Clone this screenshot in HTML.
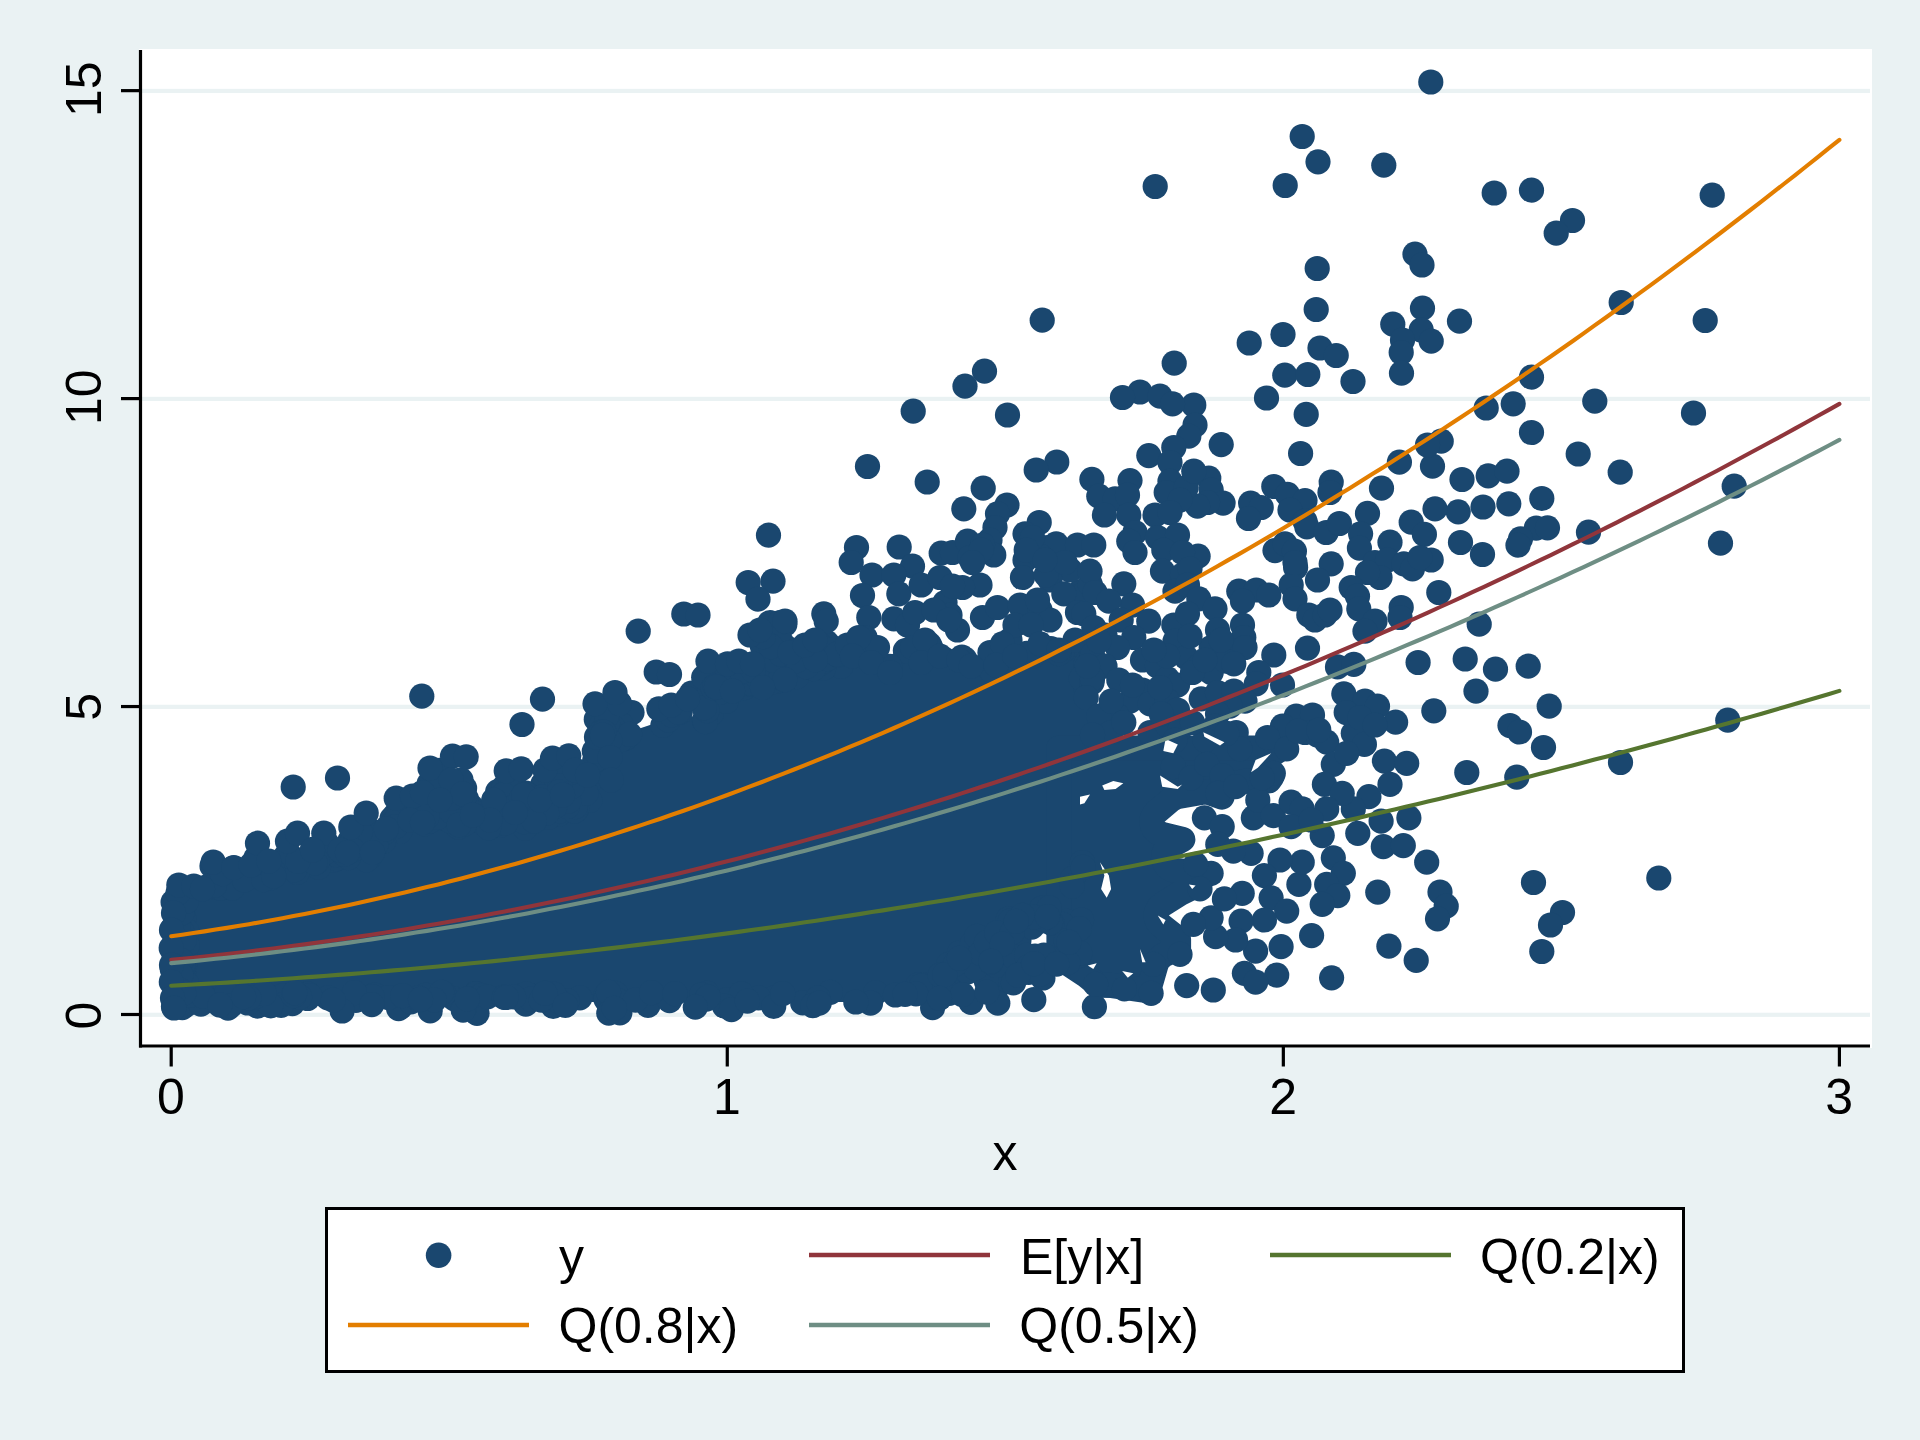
<!DOCTYPE html>
<html><head><meta charset="utf-8"><title>scatter</title>
<style>
html,body{margin:0;padding:0;background:#eaf2f3;}
body{width:1920px;height:1440px;overflow:hidden;}
svg{display:block;}
text{font-family:"Liberation Sans",sans-serif;font-size:50px;fill:#000;}
</style></head><body>
<svg width="1920" height="1440" viewBox="0 0 1920 1440">
<rect x="0" y="0" width="1920" height="1440" fill="#eaf2f3"/>
<rect x="139" y="49" width="1733" height="999" fill="#ffffff"/>

<rect x="142" y="1012.70" width="1728" height="4.2" fill="#eaf2f3"/>
<rect x="142" y="704.75" width="1728" height="4.2" fill="#eaf2f3"/>
<rect x="142" y="396.80" width="1728" height="4.2" fill="#eaf2f3"/>
<rect x="142" y="88.85" width="1728" height="4.2" fill="#eaf2f3"/>
<g fill="#1a476f">
<polygon points="178.0,905.0 215.0,880.0 265.0,875.0 315.0,862.0 365.0,850.0 390.0,828.0 440.0,815.0 490.0,825.0 540.0,815.0 590.0,795.0 605.0,740.0 650.0,725.0 700.0,715.0 720.0,693.0 775.0,680.0 800.0,665.0 837.0,658.0 850.0,640.0 887.0,658.0 912.0,640.0 950.0,648.0 975.0,665.0 1025.0,653.0 1080.0,640.0 1095.0,700.0 1095.0,860.0 1070.0,900.0 1000.0,930.0 960.0,960.0 940.0,990.0 880.0,1002.0 178.0,1002.0"/>
<path d="M1281.8 748.0 L1059.0 748.0 L1059.0 957.5 L1087.0 976.0 L1098.0 985.2 L1112.0 985.5 L1148.5 990.8 L1156.2 964.0 L1158.2 959.8 L1162.8 955.5 L1178.5 947.8 L1178.5 939.2 L1160.8 925.2 L1158.0 922.0 L1156.2 917.2 L1156.2 913.8 L1157.0 911.0 L1159.2 907.2 L1163.2 904.0 L1179.5 893.8 L1196.2 885.5 L1206.2 874.2 L1205.0 873.5 L1174.2 870.2 L1169.8 868.5 L1166.5 865.8 L1164.2 862.0 L1163.5 859.2 L1163.8 854.5 L1165.2 851.0 L1169.8 846.5 L1182.8 839.5 L1161.2 834.2 L1156.2 831.5 L1153.8 828.5 L1152.0 823.8 L1152.2 818.8 L1153.8 815.2 L1156.5 812.0 L1171.8 799.2 L1177.2 796.5 L1204.5 791.8 L1208.0 792.2 L1222.0 797.0 L1223.5 791.5 L1225.0 788.8 L1227.2 786.2 L1231.2 783.8 L1248.2 780.8 L1269.0 780.8 L1272.0 776.5 L1267.8 767.5 L1267.5 762.5 L1268.2 759.8 L1271.8 754.8Z" stroke="#1a476f" stroke-width="25.2" stroke-linejoin="round"/>
<circle cx="563.0" cy="805.0" r="12.6"/>
<circle cx="579.8" cy="997.8" r="12.6"/>
<circle cx="488.1" cy="821.5" r="12.6"/>
<circle cx="477.0" cy="1013.3" r="12.6"/>
<circle cx="959.6" cy="952.8" r="12.6"/>
<circle cx="228.5" cy="993.2" r="12.6"/>
<circle cx="531.5" cy="996.2" r="12.6"/>
<circle cx="668.7" cy="716.3" r="12.6"/>
<circle cx="987.9" cy="972.0" r="12.6"/>
<circle cx="261.0" cy="1003.7" r="12.6"/>
<circle cx="369.4" cy="857.3" r="12.6"/>
<circle cx="982.1" cy="968.1" r="12.6"/>
<circle cx="996.5" cy="988.1" r="12.6"/>
<circle cx="1066.6" cy="921.3" r="12.6"/>
<circle cx="430.9" cy="814.9" r="12.6"/>
<circle cx="625.2" cy="738.3" r="12.6"/>
<circle cx="566.2" cy="807.9" r="12.6"/>
<circle cx="618.8" cy="726.4" r="12.6"/>
<circle cx="183.1" cy="918.1" r="12.6"/>
<circle cx="589.7" cy="800.4" r="12.6"/>
<circle cx="615.3" cy="993.4" r="12.6"/>
<circle cx="875.5" cy="992.8" r="12.6"/>
<circle cx="575.8" cy="810.0" r="12.6"/>
<circle cx="997.8" cy="940.4" r="12.6"/>
<circle cx="1088.7" cy="673.0" r="12.6"/>
<circle cx="1035.0" cy="956.0" r="12.6"/>
<circle cx="992.9" cy="965.9" r="12.6"/>
<circle cx="997.8" cy="1003.2" r="12.6"/>
<circle cx="738.9" cy="685.8" r="12.6"/>
<circle cx="523.9" cy="795.6" r="12.6"/>
<circle cx="611.3" cy="746.0" r="12.6"/>
<circle cx="268.3" cy="871.1" r="12.6"/>
<circle cx="239.6" cy="998.3" r="12.6"/>
<circle cx="744.3" cy="687.6" r="12.6"/>
<circle cx="346.2" cy="853.8" r="12.6"/>
<circle cx="173.6" cy="927.4" r="12.6"/>
<circle cx="292.4" cy="1003.6" r="12.6"/>
<circle cx="947.7" cy="978.4" r="12.6"/>
<circle cx="619.9" cy="1012.8" r="12.6"/>
<circle cx="183.8" cy="948.7" r="12.6"/>
<circle cx="558.9" cy="814.1" r="12.6"/>
<circle cx="307.7" cy="993.8" r="12.6"/>
<circle cx="374.6" cy="995.2" r="12.6"/>
<circle cx="1018.0" cy="936.9" r="12.6"/>
<circle cx="194.6" cy="996.4" r="12.6"/>
<circle cx="555.9" cy="790.8" r="12.6"/>
<circle cx="176.5" cy="926.2" r="12.6"/>
<circle cx="1008.3" cy="919.1" r="12.6"/>
<circle cx="270.7" cy="993.9" r="12.6"/>
<circle cx="183.5" cy="972.6" r="12.6"/>
<circle cx="366.3" cy="853.6" r="12.6"/>
<circle cx="181.7" cy="952.0" r="12.6"/>
<circle cx="183.9" cy="918.7" r="12.6"/>
<circle cx="796.7" cy="676.7" r="12.6"/>
<circle cx="573.0" cy="798.4" r="12.6"/>
<circle cx="948.6" cy="979.4" r="12.6"/>
<circle cx="176.0" cy="975.7" r="12.6"/>
<circle cx="1038.5" cy="921.0" r="12.6"/>
<circle cx="949.7" cy="980.5" r="12.6"/>
<circle cx="174.1" cy="955.4" r="12.6"/>
<circle cx="1009.7" cy="660.3" r="12.6"/>
<circle cx="829.6" cy="647.7" r="12.6"/>
<circle cx="576.6" cy="808.7" r="12.6"/>
<circle cx="463.4" cy="797.2" r="12.6"/>
<circle cx="618.9" cy="702.9" r="12.6"/>
<circle cx="605.8" cy="996.0" r="12.6"/>
<circle cx="350.0" cy="840.7" r="12.6"/>
<circle cx="1016.3" cy="968.0" r="12.6"/>
<circle cx="465.2" cy="811.6" r="12.6"/>
<circle cx="777.3" cy="680.5" r="12.6"/>
<circle cx="267.1" cy="996.8" r="12.6"/>
<circle cx="617.9" cy="1000.7" r="12.6"/>
<circle cx="553.4" cy="782.5" r="12.6"/>
<circle cx="1018.9" cy="940.5" r="12.6"/>
<circle cx="1003.7" cy="970.4" r="12.6"/>
<circle cx="226.1" cy="878.6" r="12.6"/>
<circle cx="186.8" cy="931.4" r="12.6"/>
<circle cx="1068.6" cy="940.5" r="12.6"/>
<circle cx="174.8" cy="996.0" r="12.6"/>
<circle cx="1007.5" cy="976.0" r="12.6"/>
<circle cx="294.3" cy="995.3" r="12.6"/>
<circle cx="220.9" cy="887.5" r="12.6"/>
<circle cx="870.5" cy="1003.2" r="12.6"/>
<circle cx="400.5" cy="1007.0" r="12.6"/>
<circle cx="1042.9" cy="978.0" r="12.6"/>
<circle cx="1041.8" cy="908.4" r="12.6"/>
<circle cx="1081.5" cy="920.0" r="12.6"/>
<circle cx="905.4" cy="650.6" r="12.6"/>
<circle cx="948.7" cy="964.3" r="12.6"/>
<circle cx="1062.3" cy="924.3" r="12.6"/>
<circle cx="493.9" cy="801.5" r="12.6"/>
<circle cx="648.0" cy="1005.3" r="12.6"/>
<circle cx="179.3" cy="920.8" r="12.6"/>
<circle cx="525.8" cy="1004.2" r="12.6"/>
<circle cx="1052.0" cy="923.3" r="12.6"/>
<circle cx="284.1" cy="1000.0" r="12.6"/>
<circle cx="475.4" cy="993.7" r="12.6"/>
<circle cx="257.5" cy="1006.1" r="12.6"/>
<circle cx="947.6" cy="976.4" r="12.6"/>
<circle cx="398.6" cy="1008.6" r="12.6"/>
<circle cx="186.3" cy="983.5" r="12.6"/>
<circle cx="1033.8" cy="999.7" r="12.6"/>
<circle cx="567.0" cy="1000.6" r="12.6"/>
<circle cx="327.8" cy="997.9" r="12.6"/>
<circle cx="986.4" cy="981.2" r="12.6"/>
<circle cx="606.0" cy="999.3" r="12.6"/>
<circle cx="354.4" cy="999.4" r="12.6"/>
<circle cx="283.0" cy="995.8" r="12.6"/>
<circle cx="691.6" cy="693.2" r="12.6"/>
<circle cx="184.6" cy="964.6" r="12.6"/>
<circle cx="972.3" cy="944.0" r="12.6"/>
<circle cx="1082.4" cy="862.5" r="12.6"/>
<circle cx="528.2" cy="799.9" r="12.6"/>
<circle cx="458.3" cy="827.0" r="12.6"/>
<circle cx="932.6" cy="1007.7" r="12.6"/>
<circle cx="307.6" cy="998.5" r="12.6"/>
<circle cx="1079.3" cy="955.6" r="12.6"/>
<circle cx="553.2" cy="1006.4" r="12.6"/>
<circle cx="895.4" cy="995.0" r="12.6"/>
<circle cx="281.1" cy="1005.3" r="12.6"/>
<circle cx="182.5" cy="945.6" r="12.6"/>
<circle cx="778.2" cy="680.6" r="12.6"/>
<circle cx="855.8" cy="1002.0" r="12.6"/>
<circle cx="971.0" cy="1002.4" r="12.6"/>
<circle cx="708.9" cy="686.1" r="12.6"/>
<circle cx="270.5" cy="877.9" r="12.6"/>
<circle cx="388.4" cy="997.5" r="12.6"/>
<circle cx="802.7" cy="1002.9" r="12.6"/>
<circle cx="559.6" cy="1002.2" r="12.6"/>
<circle cx="726.7" cy="999.9" r="12.6"/>
<circle cx="541.0" cy="798.3" r="12.6"/>
<circle cx="711.1" cy="713.9" r="12.6"/>
<circle cx="1066.2" cy="940.5" r="12.6"/>
<circle cx="726.2" cy="701.4" r="12.6"/>
<circle cx="1079.8" cy="953.4" r="12.6"/>
<circle cx="175.1" cy="969.7" r="12.6"/>
<circle cx="635.5" cy="1000.2" r="12.6"/>
<circle cx="552.2" cy="761.9" r="12.6"/>
<circle cx="464.0" cy="1008.5" r="12.6"/>
<circle cx="1032.5" cy="656.0" r="12.6"/>
<circle cx="553.9" cy="994.4" r="12.6"/>
<circle cx="413.9" cy="999.6" r="12.6"/>
<circle cx="784.8" cy="624.4" r="12.6"/>
<circle cx="923.3" cy="985.1" r="12.6"/>
<circle cx="1086.3" cy="663.3" r="12.6"/>
<circle cx="774.3" cy="997.9" r="12.6"/>
<circle cx="1085.8" cy="688.4" r="12.6"/>
<circle cx="559.3" cy="790.4" r="12.6"/>
<circle cx="212.0" cy="865.9" r="12.6"/>
<circle cx="309.9" cy="995.6" r="12.6"/>
<circle cx="830.3" cy="992.3" r="12.6"/>
<circle cx="512.5" cy="775.0" r="12.6"/>
<circle cx="181.9" cy="931.6" r="12.6"/>
<circle cx="454.4" cy="998.9" r="12.6"/>
<circle cx="173.1" cy="902.1" r="12.6"/>
<circle cx="185.2" cy="956.1" r="12.6"/>
<circle cx="185.3" cy="945.4" r="12.6"/>
<circle cx="443.8" cy="993.8" r="12.6"/>
<circle cx="746.3" cy="678.3" r="12.6"/>
<circle cx="1079.3" cy="928.7" r="12.6"/>
<circle cx="1010.3" cy="920.8" r="12.6"/>
<circle cx="528.7" cy="807.0" r="12.6"/>
<circle cx="477.4" cy="820.3" r="12.6"/>
<circle cx="526.4" cy="993.9" r="12.6"/>
<circle cx="996.1" cy="965.5" r="12.6"/>
<circle cx="476.1" cy="994.2" r="12.6"/>
<circle cx="575.0" cy="799.1" r="12.6"/>
<circle cx="1050.5" cy="922.5" r="12.6"/>
<circle cx="1067.8" cy="962.7" r="12.6"/>
<circle cx="669.6" cy="1000.6" r="12.6"/>
<circle cx="967.8" cy="971.9" r="12.6"/>
<circle cx="840.9" cy="666.4" r="12.6"/>
<circle cx="270.8" cy="1005.8" r="12.6"/>
<circle cx="430.2" cy="1010.9" r="12.6"/>
<circle cx="1091.7" cy="655.3" r="12.6"/>
<circle cx="917.9" cy="985.2" r="12.6"/>
<circle cx="228.0" cy="1008.2" r="12.6"/>
<circle cx="1040.5" cy="921.1" r="12.6"/>
<circle cx="1072.7" cy="878.3" r="12.6"/>
<circle cx="602.8" cy="750.6" r="12.6"/>
<circle cx="1062.5" cy="651.3" r="12.6"/>
<circle cx="178.9" cy="965.1" r="12.6"/>
<circle cx="609.0" cy="1004.2" r="12.6"/>
<circle cx="1081.3" cy="611.6" r="12.6"/>
<circle cx="980.7" cy="944.6" r="12.6"/>
<circle cx="213.1" cy="887.2" r="12.6"/>
<circle cx="859.4" cy="645.6" r="12.6"/>
<circle cx="366.5" cy="859.8" r="12.6"/>
<circle cx="1024.6" cy="917.3" r="12.6"/>
<circle cx="489.5" cy="827.6" r="12.6"/>
<circle cx="530.9" cy="999.2" r="12.6"/>
<circle cx="399.7" cy="831.5" r="12.6"/>
<circle cx="172.3" cy="969.3" r="12.6"/>
<circle cx="220.3" cy="888.1" r="12.6"/>
<circle cx="921.3" cy="985.9" r="12.6"/>
<circle cx="758.4" cy="997.8" r="12.6"/>
<circle cx="1031.8" cy="927.2" r="12.6"/>
<circle cx="986.8" cy="992.1" r="12.6"/>
<circle cx="372.1" cy="996.6" r="12.6"/>
<circle cx="178.2" cy="969.2" r="12.6"/>
<circle cx="502.5" cy="793.9" r="12.6"/>
<circle cx="1068.9" cy="942.4" r="12.6"/>
<circle cx="706.8" cy="993.3" r="12.6"/>
<circle cx="951.2" cy="991.6" r="12.6"/>
<circle cx="944.9" cy="988.9" r="12.6"/>
<circle cx="916.0" cy="993.8" r="12.6"/>
<circle cx="1081.3" cy="678.4" r="12.6"/>
<circle cx="949.3" cy="993.3" r="12.6"/>
<circle cx="1072.1" cy="886.1" r="12.6"/>
<circle cx="426.2" cy="995.4" r="12.6"/>
<circle cx="701.6" cy="994.9" r="12.6"/>
<circle cx="929.3" cy="644.4" r="12.6"/>
<circle cx="776.0" cy="662.7" r="12.6"/>
<circle cx="247.7" cy="1003.0" r="12.6"/>
<circle cx="178.6" cy="951.8" r="12.6"/>
<circle cx="337.2" cy="858.4" r="12.6"/>
<circle cx="332.6" cy="860.3" r="12.6"/>
<circle cx="706.4" cy="999.1" r="12.6"/>
<circle cx="558.5" cy="782.8" r="12.6"/>
<circle cx="1042.6" cy="919.2" r="12.6"/>
<circle cx="709.5" cy="692.4" r="12.6"/>
<circle cx="548.8" cy="817.0" r="12.6"/>
<circle cx="749.6" cy="683.8" r="12.6"/>
<circle cx="961.9" cy="657.1" r="12.6"/>
<circle cx="1049.2" cy="907.8" r="12.6"/>
<circle cx="541.3" cy="1000.1" r="12.6"/>
<circle cx="255.2" cy="996.6" r="12.6"/>
<circle cx="595.6" cy="766.2" r="12.6"/>
<circle cx="608.5" cy="992.4" r="12.6"/>
<circle cx="662.9" cy="725.3" r="12.6"/>
<circle cx="568.1" cy="790.4" r="12.6"/>
<circle cx="1005.0" cy="661.4" r="12.6"/>
<circle cx="256.2" cy="993.1" r="12.6"/>
<circle cx="1080.3" cy="591.5" r="12.6"/>
<circle cx="823.6" cy="668.1" r="12.6"/>
<circle cx="233.5" cy="868.1" r="12.6"/>
<circle cx="186.4" cy="1004.7" r="12.6"/>
<circle cx="355.9" cy="1000.3" r="12.6"/>
<circle cx="741.3" cy="993.8" r="12.6"/>
<circle cx="354.4" cy="992.6" r="12.6"/>
<circle cx="827.1" cy="642.9" r="12.6"/>
<circle cx="1013.4" cy="956.5" r="12.6"/>
<circle cx="481.5" cy="995.5" r="12.6"/>
<circle cx="1026.6" cy="955.4" r="12.6"/>
<circle cx="724.4" cy="1006.0" r="12.6"/>
<circle cx="487.4" cy="996.8" r="12.6"/>
<circle cx="232.7" cy="994.5" r="12.6"/>
<circle cx="482.0" cy="818.9" r="12.6"/>
<circle cx="232.4" cy="992.1" r="12.6"/>
<circle cx="991.7" cy="948.0" r="12.6"/>
<circle cx="594.6" cy="760.8" r="12.6"/>
<circle cx="175.9" cy="930.0" r="12.6"/>
<circle cx="608.8" cy="1013.2" r="12.6"/>
<circle cx="964.6" cy="659.0" r="12.6"/>
<circle cx="187.2" cy="944.8" r="12.6"/>
<circle cx="773.7" cy="1006.4" r="12.6"/>
<circle cx="217.6" cy="992.7" r="12.6"/>
<circle cx="704.5" cy="720.2" r="12.6"/>
<circle cx="184.2" cy="940.2" r="12.6"/>
<circle cx="485.9" cy="825.4" r="12.6"/>
<circle cx="418.5" cy="997.9" r="12.6"/>
<circle cx="525.1" cy="828.0" r="12.6"/>
<circle cx="1013.4" cy="982.9" r="12.6"/>
<circle cx="299.6" cy="997.0" r="12.6"/>
<circle cx="441.6" cy="992.4" r="12.6"/>
<circle cx="549.9" cy="767.0" r="12.6"/>
<circle cx="591.3" cy="779.9" r="12.6"/>
<circle cx="383.5" cy="841.4" r="12.6"/>
<circle cx="860.8" cy="649.1" r="12.6"/>
<circle cx="905.1" cy="994.3" r="12.6"/>
<circle cx="182.3" cy="1007.7" r="12.6"/>
<circle cx="371.8" cy="1004.6" r="12.6"/>
<circle cx="614.3" cy="1008.3" r="12.6"/>
<circle cx="500.2" cy="821.6" r="12.6"/>
<circle cx="178.2" cy="926.7" r="12.6"/>
<circle cx="1050.9" cy="648.5" r="12.6"/>
<circle cx="293.6" cy="995.7" r="12.6"/>
<circle cx="782.7" cy="993.7" r="12.6"/>
<circle cx="996.4" cy="662.9" r="12.6"/>
<circle cx="342.1" cy="1011.0" r="12.6"/>
<circle cx="178.3" cy="894.8" r="12.6"/>
<circle cx="182.1" cy="912.8" r="12.6"/>
<circle cx="1028.6" cy="966.8" r="12.6"/>
<circle cx="560.2" cy="810.8" r="12.6"/>
<circle cx="976.7" cy="936.4" r="12.6"/>
<circle cx="1028.7" cy="972.4" r="12.6"/>
<circle cx="504.2" cy="997.4" r="12.6"/>
<circle cx="513.6" cy="996.8" r="12.6"/>
<circle cx="179.3" cy="983.0" r="12.6"/>
<circle cx="975.4" cy="968.2" r="12.6"/>
<circle cx="434.3" cy="1000.1" r="12.6"/>
<circle cx="232.3" cy="888.1" r="12.6"/>
<circle cx="625.3" cy="737.9" r="12.6"/>
<circle cx="173.5" cy="1006.4" r="12.6"/>
<circle cx="1040.4" cy="974.1" r="12.6"/>
<circle cx="500.3" cy="821.2" r="12.6"/>
<circle cx="980.6" cy="953.4" r="12.6"/>
<circle cx="962.3" cy="994.5" r="12.6"/>
<circle cx="565.5" cy="781.1" r="12.6"/>
<circle cx="545.0" cy="993.4" r="12.6"/>
<circle cx="258.6" cy="873.1" r="12.6"/>
<circle cx="506.2" cy="997.5" r="12.6"/>
<circle cx="1083.0" cy="594.9" r="12.6"/>
<circle cx="410.9" cy="1001.8" r="12.6"/>
<circle cx="1034.0" cy="917.0" r="12.6"/>
<circle cx="889.7" cy="666.4" r="12.6"/>
<circle cx="264.2" cy="993.5" r="12.6"/>
<circle cx="955.3" cy="964.2" r="12.6"/>
<circle cx="497.7" cy="791.6" r="12.6"/>
<circle cx="731.5" cy="1009.6" r="12.6"/>
<circle cx="419.0" cy="999.8" r="12.6"/>
<circle cx="708.1" cy="997.0" r="12.6"/>
<circle cx="203.1" cy="997.2" r="12.6"/>
<circle cx="940.2" cy="975.2" r="12.6"/>
<circle cx="818.1" cy="998.2" r="12.6"/>
<circle cx="200.9" cy="1004.1" r="12.6"/>
<circle cx="402.7" cy="995.7" r="12.6"/>
<circle cx="181.0" cy="963.5" r="12.6"/>
<circle cx="986.5" cy="942.5" r="12.6"/>
<circle cx="944.7" cy="974.6" r="12.6"/>
<circle cx="812.8" cy="1005.7" r="12.6"/>
<circle cx="226.5" cy="993.6" r="12.6"/>
<circle cx="424.4" cy="812.8" r="12.6"/>
<circle cx="183.4" cy="963.6" r="12.6"/>
<circle cx="181.6" cy="960.6" r="12.6"/>
<circle cx="772.6" cy="681.2" r="12.6"/>
<circle cx="557.8" cy="797.9" r="12.6"/>
<circle cx="202.6" cy="993.7" r="12.6"/>
<circle cx="173.5" cy="970.1" r="12.6"/>
<circle cx="959.4" cy="958.3" r="12.6"/>
<circle cx="574.7" cy="811.2" r="12.6"/>
<circle cx="990.8" cy="962.2" r="12.6"/>
<circle cx="1022.2" cy="915.3" r="12.6"/>
<circle cx="575.3" cy="806.6" r="12.6"/>
<circle cx="996.8" cy="932.8" r="12.6"/>
<circle cx="1012.4" cy="932.1" r="12.6"/>
<circle cx="230.7" cy="1005.7" r="12.6"/>
<circle cx="189.8" cy="995.4" r="12.6"/>
<circle cx="805.2" cy="646.8" r="12.6"/>
<circle cx="294.8" cy="992.8" r="12.6"/>
<circle cx="668.3" cy="720.1" r="12.6"/>
<circle cx="1058.7" cy="653.6" r="12.6"/>
<circle cx="705.3" cy="721.7" r="12.6"/>
<circle cx="180.8" cy="974.9" r="12.6"/>
<circle cx="651.6" cy="992.6" r="12.6"/>
<circle cx="991.0" cy="670.3" r="12.6"/>
<circle cx="464.6" cy="788.1" r="12.6"/>
<circle cx="1018.1" cy="975.4" r="12.6"/>
<circle cx="531.8" cy="802.0" r="12.6"/>
<circle cx="695.3" cy="1007.2" r="12.6"/>
<circle cx="762.2" cy="645.7" r="12.6"/>
<circle cx="719.3" cy="692.5" r="12.6"/>
<circle cx="1002.2" cy="944.2" r="12.6"/>
<circle cx="248.8" cy="997.9" r="12.6"/>
<circle cx="243.6" cy="996.6" r="12.6"/>
<circle cx="1043.8" cy="955.2" r="12.6"/>
<circle cx="930.9" cy="647.9" r="12.6"/>
<circle cx="542.8" cy="784.2" r="12.6"/>
<circle cx="747.4" cy="1001.2" r="12.6"/>
<circle cx="1034.0" cy="963.6" r="12.6"/>
<circle cx="821.4" cy="663.0" r="12.6"/>
<circle cx="1090.2" cy="584.2" r="12.6"/>
<circle cx="1092.0" cy="682.5" r="12.6"/>
<circle cx="1047.5" cy="916.6" r="12.6"/>
<circle cx="724.3" cy="680.5" r="12.6"/>
<circle cx="559.6" cy="795.6" r="12.6"/>
<circle cx="463.1" cy="1010.1" r="12.6"/>
<circle cx="565.4" cy="1005.4" r="12.6"/>
<circle cx="515.7" cy="801.3" r="12.6"/>
<circle cx="773.0" cy="652.8" r="12.6"/>
<circle cx="731.0" cy="664.3" r="12.6"/>
<circle cx="675.0" cy="993.7" r="12.6"/>
<circle cx="420.5" cy="999.3" r="12.6"/>
<circle cx="1056.7" cy="964.2" r="12.6"/>
<circle cx="606.6" cy="754.7" r="12.6"/>
<circle cx="819.2" cy="1003.1" r="12.6"/>
<circle cx="333.2" cy="1000.1" r="12.6"/>
<circle cx="1083.2" cy="867.4" r="12.6"/>
<circle cx="822.9" cy="661.1" r="12.6"/>
<circle cx="445.7" cy="804.0" r="12.6"/>
<circle cx="467.3" cy="998.9" r="12.6"/>
<circle cx="1026.7" cy="653.4" r="12.6"/>
<circle cx="990.8" cy="961.3" r="12.6"/>
<circle cx="1016.3" cy="921.4" r="12.6"/>
<circle cx="813.4" cy="668.6" r="12.6"/>
<circle cx="939.4" cy="998.3" r="12.6"/>
<circle cx="506.0" cy="819.7" r="12.6"/>
<circle cx="632.0" cy="712.6" r="12.6"/>
<circle cx="179.7" cy="990.1" r="12.6"/>
<circle cx="441.2" cy="818.4" r="12.6"/>
<circle cx="767.3" cy="677.6" r="12.6"/>
<circle cx="203.0" cy="996.2" r="12.6"/>
<circle cx="464.4" cy="824.2" r="12.6"/>
<circle cx="219.9" cy="1005.2" r="12.6"/>
<circle cx="183.8" cy="993.1" r="12.6"/>
<circle cx="424.8" cy="823.9" r="12.6"/>
<circle cx="335.9" cy="858.6" r="12.6"/>
<circle cx="545.1" cy="798.6" r="12.6"/>
<circle cx="787.5" cy="648.4" r="12.6"/>
<circle cx="208.0" cy="886.4" r="12.6"/>
<circle cx="460.7" cy="785.4" r="12.6"/>
<circle cx="428.9" cy="811.3" r="12.6"/>
<circle cx="594.3" cy="751.1" r="12.6"/>
<circle cx="471.1" cy="806.4" r="12.6"/>
<circle cx="595.7" cy="760.2" r="12.6"/>
<circle cx="553.9" cy="794.3" r="12.6"/>
<circle cx="406.4" cy="809.0" r="12.6"/>
<circle cx="449.9" cy="820.9" r="12.6"/>
<circle cx="615.2" cy="728.6" r="12.6"/>
<circle cx="416.8" cy="803.1" r="12.6"/>
<circle cx="774.3" cy="651.7" r="12.6"/>
<circle cx="671.5" cy="714.9" r="12.6"/>
<circle cx="844.3" cy="651.7" r="12.6"/>
<circle cx="462.5" cy="791.6" r="12.6"/>
<circle cx="707.1" cy="710.7" r="12.6"/>
<circle cx="346.8" cy="847.3" r="12.6"/>
<circle cx="430.4" cy="796.8" r="12.6"/>
<circle cx="569.6" cy="768.1" r="12.6"/>
<circle cx="304.5" cy="862.1" r="12.6"/>
<circle cx="603.7" cy="717.0" r="12.6"/>
<circle cx="512.3" cy="784.2" r="12.6"/>
<circle cx="753.8" cy="676.5" r="12.6"/>
<circle cx="834.7" cy="648.6" r="12.6"/>
<circle cx="348.5" cy="857.6" r="12.6"/>
<circle cx="440.6" cy="796.9" r="12.6"/>
<circle cx="432.9" cy="794.0" r="12.6"/>
<circle cx="435.9" cy="802.7" r="12.6"/>
<circle cx="318.5" cy="867.0" r="12.6"/>
<circle cx="461.0" cy="802.5" r="12.6"/>
<circle cx="297.1" cy="872.4" r="12.6"/>
<circle cx="548.7" cy="802.0" r="12.6"/>
<circle cx="459.2" cy="785.2" r="12.6"/>
<circle cx="347.6" cy="846.5" r="12.6"/>
<circle cx="813.2" cy="654.8" r="12.6"/>
<circle cx="612.7" cy="733.4" r="12.6"/>
<circle cx="462.6" cy="788.3" r="12.6"/>
<circle cx="502.4" cy="817.8" r="12.6"/>
<circle cx="620.0" cy="729.8" r="12.6"/>
<circle cx="498.1" cy="800.9" r="12.6"/>
<circle cx="411.8" cy="809.2" r="12.6"/>
<circle cx="376.4" cy="836.6" r="12.6"/>
<circle cx="751.2" cy="683.3" r="12.6"/>
<circle cx="787.9" cy="667.1" r="12.6"/>
<circle cx="768.5" cy="664.0" r="12.6"/>
<circle cx="494.0" cy="808.1" r="12.6"/>
<circle cx="621.2" cy="724.9" r="12.6"/>
<circle cx="442.4" cy="775.0" r="12.6"/>
<circle cx="506.8" cy="817.7" r="12.6"/>
<circle cx="336.1" cy="854.7" r="12.6"/>
<circle cx="442.2" cy="783.8" r="12.6"/>
<circle cx="504.3" cy="786.6" r="12.6"/>
<circle cx="510.4" cy="808.9" r="12.6"/>
<circle cx="514.2" cy="785.3" r="12.6"/>
<circle cx="395.7" cy="814.5" r="12.6"/>
<circle cx="827.5" cy="655.6" r="12.6"/>
<circle cx="761.8" cy="677.4" r="12.6"/>
<circle cx="256.3" cy="861.3" r="12.6"/>
<circle cx="704.2" cy="707.7" r="12.6"/>
<circle cx="825.5" cy="643.2" r="12.6"/>
<circle cx="754.4" cy="669.9" r="12.6"/>
<circle cx="524.5" cy="815.8" r="12.6"/>
<circle cx="498.9" cy="813.1" r="12.6"/>
<circle cx="456.7" cy="789.6" r="12.6"/>
<circle cx="797.9" cy="661.6" r="12.6"/>
<circle cx="612.9" cy="727.5" r="12.6"/>
<circle cx="312.7" cy="849.4" r="12.6"/>
<circle cx="392.0" cy="818.6" r="12.6"/>
<circle cx="441.5" cy="770.1" r="12.6"/>
<circle cx="596.3" cy="719.4" r="12.6"/>
<circle cx="290.2" cy="856.4" r="12.6"/>
<circle cx="440.5" cy="799.4" r="12.6"/>
<circle cx="372.9" cy="835.1" r="12.6"/>
<circle cx="827.3" cy="658.6" r="12.6"/>
<circle cx="400.0" cy="810.7" r="12.6"/>
<circle cx="780.9" cy="651.6" r="12.6"/>
<circle cx="725.5" cy="676.5" r="12.6"/>
<circle cx="432.9" cy="807.6" r="12.6"/>
<circle cx="466.3" cy="798.6" r="12.6"/>
<circle cx="604.5" cy="747.3" r="12.6"/>
<circle cx="273.1" cy="868.6" r="12.6"/>
<circle cx="616.6" cy="736.6" r="12.6"/>
<circle cx="464.7" cy="810.4" r="12.6"/>
<circle cx="680.2" cy="712.0" r="12.6"/>
<circle cx="726.7" cy="684.3" r="12.6"/>
<circle cx="586.1" cy="793.2" r="12.6"/>
<circle cx="503.3" cy="794.6" r="12.6"/>
<circle cx="567.3" cy="806.5" r="12.6"/>
<circle cx="605.0" cy="736.9" r="12.6"/>
<circle cx="366.7" cy="846.2" r="12.6"/>
<circle cx="515.1" cy="806.3" r="12.6"/>
<circle cx="526.1" cy="793.1" r="12.6"/>
<circle cx="557.0" cy="775.0" r="12.6"/>
<circle cx="393.1" cy="823.1" r="12.6"/>
<circle cx="298.1" cy="859.9" r="12.6"/>
<circle cx="182.3" cy="895.0" r="12.6"/>
<circle cx="438.0" cy="774.9" r="12.6"/>
<circle cx="572.0" cy="773.8" r="12.6"/>
<circle cx="602.1" cy="724.3" r="12.6"/>
<circle cx="403.4" cy="819.0" r="12.6"/>
<circle cx="595.1" cy="751.1" r="12.6"/>
<circle cx="322.9" cy="848.5" r="12.6"/>
<circle cx="474.0" cy="812.7" r="12.6"/>
<circle cx="788.5" cy="669.4" r="12.6"/>
<circle cx="781.3" cy="642.1" r="12.6"/>
<circle cx="806.2" cy="666.7" r="12.6"/>
<circle cx="184.1" cy="896.6" r="12.6"/>
<circle cx="617.9" cy="738.6" r="12.6"/>
<circle cx="526.9" cy="794.5" r="12.6"/>
<circle cx="749.7" cy="672.6" r="12.6"/>
<circle cx="500.1" cy="825.3" r="12.6"/>
<circle cx="429.3" cy="783.3" r="12.6"/>
<circle cx="818.9" cy="644.0" r="12.6"/>
<circle cx="568.7" cy="801.0" r="12.6"/>
<circle cx="396.6" cy="819.2" r="12.6"/>
<circle cx="556.9" cy="785.8" r="12.6"/>
<circle cx="621.0" cy="739.5" r="12.6"/>
<circle cx="629.6" cy="734.4" r="12.6"/>
<circle cx="395.6" cy="826.5" r="12.6"/>
<circle cx="420.7" cy="817.6" r="12.6"/>
<circle cx="770.8" cy="682.5" r="12.6"/>
<circle cx="384.5" cy="832.7" r="12.6"/>
<circle cx="461.0" cy="779.9" r="12.6"/>
<circle cx="429.2" cy="821.4" r="12.6"/>
<circle cx="703.7" cy="677.3" r="12.6"/>
<circle cx="678.2" cy="712.1" r="12.6"/>
<circle cx="713.2" cy="687.9" r="12.6"/>
<circle cx="796.6" cy="660.6" r="12.6"/>
<circle cx="374.2" cy="832.0" r="12.6"/>
<circle cx="829.6" cy="650.1" r="12.6"/>
<circle cx="572.1" cy="786.3" r="12.6"/>
<circle cx="463.1" cy="801.6" r="12.6"/>
<circle cx="407.1" cy="802.4" r="12.6"/>
<circle cx="214.4" cy="885.4" r="12.6"/>
<circle cx="554.8" cy="806.7" r="12.6"/>
<circle cx="609.8" cy="740.6" r="12.6"/>
<circle cx="570.3" cy="772.7" r="12.6"/>
<circle cx="837.6" cy="655.1" r="12.6"/>
<circle cx="375.7" cy="845.2" r="12.6"/>
<circle cx="524.0" cy="821.6" r="12.6"/>
<circle cx="836.9" cy="654.0" r="12.6"/>
<circle cx="568.7" cy="770.4" r="12.6"/>
<circle cx="288.5" cy="861.0" r="12.6"/>
<circle cx="327.0" cy="843.6" r="12.6"/>
<circle cx="293.2" cy="866.3" r="12.6"/>
<circle cx="531.9" cy="813.8" r="12.6"/>
<circle cx="431.9" cy="781.6" r="12.6"/>
<circle cx="715.1" cy="686.3" r="12.6"/>
<circle cx="244.7" cy="879.5" r="12.6"/>
<circle cx="244.4" cy="880.1" r="12.6"/>
<circle cx="265.2" cy="870.5" r="12.6"/>
<circle cx="457.6" cy="809.9" r="12.6"/>
<circle cx="815.4" cy="659.9" r="12.6"/>
<circle cx="494.8" cy="824.6" r="12.6"/>
<circle cx="360.3" cy="832.1" r="12.6"/>
<circle cx="255.8" cy="858.1" r="12.6"/>
<circle cx="222.4" cy="873.7" r="12.6"/>
<circle cx="257.9" cy="859.7" r="12.6"/>
<circle cx="607.5" cy="723.2" r="12.6"/>
<circle cx="464.6" cy="796.6" r="12.6"/>
<circle cx="780.6" cy="678.1" r="12.6"/>
<circle cx="285.1" cy="867.2" r="12.6"/>
<circle cx="325.4" cy="852.3" r="12.6"/>
<circle cx="317.0" cy="861.5" r="12.6"/>
<circle cx="606.5" cy="716.1" r="12.6"/>
<circle cx="186.3" cy="901.3" r="12.6"/>
<circle cx="437.8" cy="817.2" r="12.6"/>
<circle cx="556.8" cy="795.5" r="12.6"/>
<circle cx="560.1" cy="785.6" r="12.6"/>
<circle cx="291.1" cy="866.6" r="12.6"/>
<circle cx="450.9" cy="811.0" r="12.6"/>
<circle cx="778.2" cy="635.0" r="12.6"/>
<circle cx="619.4" cy="703.5" r="12.6"/>
<circle cx="178.0" cy="892.9" r="12.6"/>
<circle cx="294.4" cy="869.9" r="12.6"/>
<circle cx="596.5" cy="737.0" r="12.6"/>
<circle cx="459.1" cy="797.4" r="12.6"/>
<circle cx="418.6" cy="811.6" r="12.6"/>
<circle cx="526.2" cy="794.5" r="12.6"/>
<circle cx="505.4" cy="823.0" r="12.6"/>
<circle cx="772.6" cy="660.1" r="12.6"/>
<circle cx="728.9" cy="677.4" r="12.6"/>
<circle cx="315.1" cy="862.8" r="12.6"/>
<circle cx="541.9" cy="797.0" r="12.6"/>
<circle cx="488.6" cy="827.9" r="12.6"/>
<circle cx="344.5" cy="854.3" r="12.6"/>
<circle cx="263.6" cy="879.6" r="12.6"/>
<circle cx="732.1" cy="670.5" r="12.6"/>
<circle cx="558.9" cy="792.1" r="12.6"/>
<circle cx="546.8" cy="813.1" r="12.6"/>
<circle cx="780.7" cy="654.1" r="12.6"/>
<circle cx="601.5" cy="732.2" r="12.6"/>
<circle cx="285.8" cy="856.2" r="12.6"/>
<circle cx="273.1" cy="871.1" r="12.6"/>
<circle cx="521.4" cy="798.3" r="12.6"/>
<circle cx="771.0" cy="646.7" r="12.6"/>
<circle cx="452.2" cy="798.0" r="12.6"/>
<circle cx="741.7" cy="671.3" r="12.6"/>
<circle cx="784.9" cy="679.6" r="12.6"/>
<circle cx="297.8" cy="861.4" r="12.6"/>
<circle cx="459.0" cy="824.8" r="12.6"/>
<circle cx="534.3" cy="821.1" r="12.6"/>
<circle cx="763.3" cy="636.7" r="12.6"/>
<circle cx="603.8" cy="732.0" r="12.6"/>
<circle cx="352.6" cy="850.2" r="12.6"/>
<circle cx="753.2" cy="670.3" r="12.6"/>
<circle cx="273.6" cy="876.2" r="12.6"/>
<circle cx="716.5" cy="687.0" r="12.6"/>
<circle cx="427.2" cy="816.4" r="12.6"/>
<circle cx="1494.2" cy="193.0" r="12.6"/>
<circle cx="1531.5" cy="190.2" r="12.6"/>
<circle cx="1572.5" cy="220.5" r="12.6"/>
<circle cx="1556.2" cy="233.2" r="12.6"/>
<circle cx="1712.2" cy="195.2" r="12.6"/>
<circle cx="1621.2" cy="302.5" r="12.6"/>
<circle cx="1705.2" cy="320.5" r="12.6"/>
<circle cx="1459.5" cy="321.2" r="12.6"/>
<circle cx="1531.5" cy="377.2" r="12.6"/>
<circle cx="1486.2" cy="408.0" r="12.6"/>
<circle cx="1513.2" cy="403.8" r="12.6"/>
<circle cx="1594.8" cy="401.2" r="12.6"/>
<circle cx="1693.5" cy="413.0" r="12.6"/>
<circle cx="1531.5" cy="432.5" r="12.6"/>
<circle cx="1441.2" cy="441.2" r="12.6"/>
<circle cx="1578.2" cy="454.0" r="12.6"/>
<circle cx="1620.2" cy="472.2" r="12.6"/>
<circle cx="1432.5" cy="466.2" r="12.6"/>
<circle cx="1462.0" cy="479.5" r="12.6"/>
<circle cx="1488.2" cy="475.8" r="12.6"/>
<circle cx="1507.0" cy="471.2" r="12.6"/>
<circle cx="1734.2" cy="486.2" r="12.6"/>
<circle cx="1541.8" cy="498.5" r="12.6"/>
<circle cx="1508.8" cy="503.8" r="12.6"/>
<circle cx="1483.0" cy="507.0" r="12.6"/>
<circle cx="1458.2" cy="511.8" r="12.6"/>
<circle cx="1435.0" cy="508.8" r="12.6"/>
<circle cx="1536.2" cy="528.2" r="12.6"/>
<circle cx="1547.5" cy="527.8" r="12.6"/>
<circle cx="1520.5" cy="538.8" r="12.6"/>
<circle cx="1518.0" cy="545.2" r="12.6"/>
<circle cx="1588.5" cy="532.2" r="12.6"/>
<circle cx="1460.5" cy="542.5" r="12.6"/>
<circle cx="1482.5" cy="554.5" r="12.6"/>
<circle cx="1720.5" cy="543.2" r="12.6"/>
<circle cx="1431.2" cy="560.0" r="12.6"/>
<circle cx="1438.8" cy="592.5" r="12.6"/>
<circle cx="1479.2" cy="624.2" r="12.6"/>
<circle cx="1465.2" cy="659.0" r="12.6"/>
<circle cx="1495.5" cy="669.2" r="12.6"/>
<circle cx="1528.2" cy="666.2" r="12.6"/>
<circle cx="1476.0" cy="691.2" r="12.6"/>
<circle cx="1549.2" cy="706.2" r="12.6"/>
<circle cx="1433.8" cy="710.8" r="12.6"/>
<circle cx="1510.0" cy="725.5" r="12.6"/>
<circle cx="1519.5" cy="732.0" r="12.6"/>
<circle cx="1543.5" cy="747.5" r="12.6"/>
<circle cx="1727.8" cy="720.2" r="12.6"/>
<circle cx="1620.5" cy="762.5" r="12.6"/>
<circle cx="1466.8" cy="772.5" r="12.6"/>
<circle cx="1516.8" cy="777.2" r="12.6"/>
<circle cx="1533.5" cy="882.5" r="12.6"/>
<circle cx="1658.8" cy="878.0" r="12.6"/>
<circle cx="1562.5" cy="912.5" r="12.6"/>
<circle cx="1550.5" cy="925.0" r="12.6"/>
<circle cx="1541.8" cy="951.5" r="12.6"/>
<circle cx="1440.0" cy="892.0" r="12.6"/>
<circle cx="1446.2" cy="906.2" r="12.6"/>
<circle cx="1437.5" cy="918.8" r="12.6"/>
<circle cx="1430.8" cy="82.0" r="12.6"/>
<circle cx="1302.2" cy="136.5" r="12.6"/>
<circle cx="1318.0" cy="161.8" r="12.6"/>
<circle cx="1383.8" cy="165.2" r="12.6"/>
<circle cx="1285.2" cy="185.5" r="12.6"/>
<circle cx="1155.2" cy="186.5" r="12.6"/>
<circle cx="1415.0" cy="254.2" r="12.6"/>
<circle cx="1422.0" cy="265.0" r="12.6"/>
<circle cx="1317.2" cy="268.5" r="12.6"/>
<circle cx="1316.2" cy="309.5" r="12.6"/>
<circle cx="1422.5" cy="308.2" r="12.6"/>
<circle cx="1042.2" cy="320.2" r="12.6"/>
<circle cx="1392.8" cy="324.2" r="12.6"/>
<circle cx="1421.2" cy="330.0" r="12.6"/>
<circle cx="1431.2" cy="341.2" r="12.6"/>
<circle cx="1402.5" cy="340.0" r="12.6"/>
<circle cx="1401.2" cy="352.5" r="12.6"/>
<circle cx="1401.5" cy="373.2" r="12.6"/>
<circle cx="1283.0" cy="334.5" r="12.6"/>
<circle cx="1249.2" cy="343.0" r="12.6"/>
<circle cx="1320.0" cy="348.0" r="12.6"/>
<circle cx="1336.2" cy="355.5" r="12.6"/>
<circle cx="1174.2" cy="363.2" r="12.6"/>
<circle cx="1284.8" cy="375.2" r="12.6"/>
<circle cx="1307.8" cy="374.5" r="12.6"/>
<circle cx="1353.0" cy="381.5" r="12.6"/>
<circle cx="984.5" cy="371.2" r="12.6"/>
<circle cx="965.0" cy="386.2" r="12.6"/>
<circle cx="1266.5" cy="398.0" r="12.6"/>
<circle cx="1193.8" cy="405.0" r="12.6"/>
<circle cx="1140.0" cy="392.0" r="12.6"/>
<circle cx="1122.5" cy="397.5" r="12.6"/>
<circle cx="1160.0" cy="396.2" r="12.6"/>
<circle cx="1172.5" cy="403.8" r="12.6"/>
<circle cx="913.2" cy="411.2" r="12.6"/>
<circle cx="867.5" cy="466.5" r="12.6"/>
<circle cx="927.2" cy="482.0" r="12.6"/>
<circle cx="963.8" cy="508.8" r="12.6"/>
<circle cx="768.5" cy="535.2" r="12.6"/>
<circle cx="856.5" cy="547.5" r="12.6"/>
<circle cx="899.2" cy="547.0" r="12.6"/>
<circle cx="851.2" cy="562.5" r="12.6"/>
<circle cx="941.2" cy="553.2" r="12.6"/>
<circle cx="952.5" cy="552.5" r="12.6"/>
<circle cx="912.5" cy="566.2" r="12.6"/>
<circle cx="872.0" cy="575.0" r="12.6"/>
<circle cx="893.8" cy="575.0" r="12.6"/>
<circle cx="862.5" cy="595.5" r="12.6"/>
<circle cx="898.8" cy="593.8" r="12.6"/>
<circle cx="748.2" cy="582.5" r="12.6"/>
<circle cx="773.0" cy="581.2" r="12.6"/>
<circle cx="758.0" cy="599.2" r="12.6"/>
<circle cx="683.8" cy="614.0" r="12.6"/>
<circle cx="698.0" cy="615.0" r="12.6"/>
<circle cx="638.2" cy="631.2" r="12.6"/>
<circle cx="823.8" cy="613.8" r="12.6"/>
<circle cx="826.2" cy="621.2" r="12.6"/>
<circle cx="770.0" cy="622.5" r="12.6"/>
<circle cx="780.0" cy="622.5" r="12.6"/>
<circle cx="750.0" cy="635.0" r="12.6"/>
<circle cx="868.8" cy="617.5" r="12.6"/>
<circle cx="893.8" cy="618.8" r="12.6"/>
<circle cx="1306.2" cy="414.4" r="12.6"/>
<circle cx="1221.2" cy="444.6" r="12.6"/>
<circle cx="1300.6" cy="453.5" r="12.6"/>
<circle cx="1399.4" cy="462.2" r="12.6"/>
<circle cx="1427.5" cy="445.0" r="12.6"/>
<circle cx="1331.2" cy="482.1" r="12.6"/>
<circle cx="1330.0" cy="492.5" r="12.6"/>
<circle cx="1381.5" cy="488.2" r="12.6"/>
<circle cx="1273.8" cy="486.5" r="12.6"/>
<circle cx="1287.5" cy="494.4" r="12.6"/>
<circle cx="1305.0" cy="500.6" r="12.6"/>
<circle cx="1290.0" cy="510.0" r="12.6"/>
<circle cx="1250.6" cy="503.1" r="12.6"/>
<circle cx="1261.2" cy="507.5" r="12.6"/>
<circle cx="1248.5" cy="518.5" r="12.6"/>
<circle cx="1208.8" cy="478.1" r="12.6"/>
<circle cx="1211.2" cy="490.0" r="12.6"/>
<circle cx="1223.1" cy="503.1" r="12.6"/>
<circle cx="1207.5" cy="502.5" r="12.6"/>
<circle cx="1197.5" cy="506.2" r="12.6"/>
<circle cx="1305.0" cy="521.2" r="12.6"/>
<circle cx="1306.9" cy="526.9" r="12.6"/>
<circle cx="1326.2" cy="532.5" r="12.6"/>
<circle cx="1339.4" cy="523.5" r="12.6"/>
<circle cx="1367.5" cy="513.4" r="12.6"/>
<circle cx="1360.6" cy="533.8" r="12.6"/>
<circle cx="1359.4" cy="548.1" r="12.6"/>
<circle cx="1390.0" cy="542.2" r="12.6"/>
<circle cx="1411.2" cy="522.2" r="12.6"/>
<circle cx="1424.4" cy="534.4" r="12.6"/>
<circle cx="1275.0" cy="550.6" r="12.6"/>
<circle cx="1285.0" cy="543.8" r="12.6"/>
<circle cx="1294.4" cy="551.2" r="12.6"/>
<circle cx="1295.6" cy="567.5" r="12.6"/>
<circle cx="1331.2" cy="563.8" r="12.6"/>
<circle cx="1198.1" cy="556.2" r="12.6"/>
<circle cx="421.8" cy="696.2" r="12.6"/>
<circle cx="542.5" cy="699.2" r="12.6"/>
<circle cx="522.0" cy="724.5" r="12.6"/>
<circle cx="293.2" cy="787.0" r="12.6"/>
<circle cx="337.5" cy="778.0" r="12.6"/>
<circle cx="595.0" cy="703.8" r="12.6"/>
<circle cx="615.0" cy="692.5" r="12.6"/>
<circle cx="602.5" cy="735.0" r="12.6"/>
<circle cx="610.0" cy="757.5" r="12.6"/>
<circle cx="611.2" cy="780.0" r="12.6"/>
<circle cx="178.8" cy="885.0" r="12.6"/>
<circle cx="193.8" cy="886.2" r="12.6"/>
<circle cx="202.5" cy="888.8" r="12.6"/>
<circle cx="213.2" cy="862.0" r="12.6"/>
<circle cx="233.8" cy="867.5" r="12.6"/>
<circle cx="251.2" cy="865.0" r="12.6"/>
<circle cx="257.5" cy="843.2" r="12.6"/>
<circle cx="268.8" cy="861.2" r="12.6"/>
<circle cx="287.5" cy="841.2" r="12.6"/>
<circle cx="297.5" cy="833.2" r="12.6"/>
<circle cx="323.8" cy="833.2" r="12.6"/>
<circle cx="312.5" cy="850.0" r="12.6"/>
<circle cx="340.0" cy="850.0" r="12.6"/>
<circle cx="347.5" cy="852.5" r="12.6"/>
<circle cx="350.8" cy="827.0" r="12.6"/>
<circle cx="366.2" cy="813.0" r="12.6"/>
<circle cx="386.2" cy="828.8" r="12.6"/>
<circle cx="372.5" cy="852.5" r="12.6"/>
<circle cx="396.2" cy="798.2" r="12.6"/>
<circle cx="412.5" cy="796.2" r="12.6"/>
<circle cx="422.5" cy="792.5" r="12.6"/>
<circle cx="410.0" cy="820.0" r="12.6"/>
<circle cx="422.5" cy="822.5" r="12.6"/>
<circle cx="430.0" cy="768.0" r="12.6"/>
<circle cx="452.5" cy="756.2" r="12.6"/>
<circle cx="466.2" cy="756.8" r="12.6"/>
<circle cx="451.2" cy="780.0" r="12.6"/>
<circle cx="462.5" cy="793.8" r="12.6"/>
<circle cx="440.0" cy="800.0" r="12.6"/>
<circle cx="493.8" cy="800.0" r="12.6"/>
<circle cx="506.2" cy="770.8" r="12.6"/>
<circle cx="521.2" cy="768.8" r="12.6"/>
<circle cx="523.8" cy="795.0" r="12.6"/>
<circle cx="540.0" cy="800.0" r="12.6"/>
<circle cx="562.5" cy="795.0" r="12.6"/>
<circle cx="545.0" cy="770.0" r="12.6"/>
<circle cx="552.5" cy="758.2" r="12.6"/>
<circle cx="568.8" cy="755.8" r="12.6"/>
<circle cx="575.0" cy="770.0" r="12.6"/>
<circle cx="587.5" cy="775.0" r="12.6"/>
<circle cx="515.0" cy="812.5" r="12.6"/>
<circle cx="490.0" cy="820.0" r="12.6"/>
<circle cx="472.5" cy="815.0" r="12.6"/>
<circle cx="1056.8" cy="462.0" r="12.6"/>
<circle cx="1036.2" cy="470.0" r="12.6"/>
<circle cx="983.2" cy="488.2" r="12.6"/>
<circle cx="1007.0" cy="505.0" r="12.6"/>
<circle cx="997.5" cy="513.8" r="12.6"/>
<circle cx="995.0" cy="527.5" r="12.6"/>
<circle cx="990.0" cy="540.0" r="12.6"/>
<circle cx="1039.2" cy="522.5" r="12.6"/>
<circle cx="1025.0" cy="533.8" r="12.6"/>
<circle cx="967.5" cy="541.2" r="12.6"/>
<circle cx="970.0" cy="557.5" r="12.6"/>
<circle cx="993.8" cy="555.0" r="12.6"/>
<circle cx="982.5" cy="545.0" r="12.6"/>
<circle cx="785.0" cy="621.2" r="12.6"/>
<circle cx="760.0" cy="630.0" r="12.6"/>
<circle cx="907.5" cy="625.0" r="12.6"/>
<circle cx="945.0" cy="602.5" r="12.6"/>
<circle cx="950.0" cy="615.0" r="12.6"/>
<circle cx="957.5" cy="630.0" r="12.6"/>
<circle cx="982.5" cy="617.5" r="12.6"/>
<circle cx="997.5" cy="607.5" r="12.6"/>
<circle cx="1020.0" cy="605.0" r="12.6"/>
<circle cx="1040.0" cy="610.0" r="12.6"/>
<circle cx="1050.0" cy="620.0" r="12.6"/>
<circle cx="980.0" cy="585.0" r="12.6"/>
<circle cx="962.5" cy="587.5" r="12.6"/>
<circle cx="1025.0" cy="560.0" r="12.6"/>
<circle cx="1022.5" cy="577.5" r="12.6"/>
<circle cx="1047.5" cy="547.5" r="12.6"/>
<circle cx="1062.5" cy="550.0" r="12.6"/>
<circle cx="1070.0" cy="570.0" r="12.6"/>
<circle cx="1050.0" cy="580.0" r="12.6"/>
<circle cx="708.0" cy="661.2" r="12.6"/>
<circle cx="727.5" cy="663.8" r="12.6"/>
<circle cx="738.8" cy="661.2" r="12.6"/>
<circle cx="752.5" cy="663.8" r="12.6"/>
<circle cx="656.2" cy="672.0" r="12.6"/>
<circle cx="669.5" cy="674.5" r="12.6"/>
<circle cx="658.8" cy="708.8" r="12.6"/>
<circle cx="671.2" cy="705.0" r="12.6"/>
<circle cx="687.5" cy="698.8" r="12.6"/>
<circle cx="732.5" cy="691.2" r="12.6"/>
<circle cx="762.5" cy="687.5" r="12.6"/>
<circle cx="790.0" cy="652.5" r="12.6"/>
<circle cx="805.0" cy="645.0" r="12.6"/>
<circle cx="815.0" cy="640.0" r="12.6"/>
<circle cx="847.5" cy="645.0" r="12.6"/>
<circle cx="865.0" cy="637.5" r="12.6"/>
<circle cx="877.5" cy="647.5" r="12.6"/>
<circle cx="912.5" cy="647.5" r="12.6"/>
<circle cx="925.0" cy="640.0" r="12.6"/>
<circle cx="990.0" cy="652.5" r="12.6"/>
<circle cx="1010.0" cy="640.0" r="12.6"/>
<circle cx="1075.0" cy="640.0" r="12.6"/>
<circle cx="1056.2" cy="543.8" r="12.6"/>
<circle cx="1077.5" cy="545.0" r="12.6"/>
<circle cx="981.2" cy="550.0" r="12.6"/>
<circle cx="972.5" cy="562.5" r="12.6"/>
<circle cx="1040.0" cy="556.2" r="12.6"/>
<circle cx="1046.2" cy="575.0" r="12.6"/>
<circle cx="1065.0" cy="562.5" r="12.6"/>
<circle cx="921.2" cy="585.0" r="12.6"/>
<circle cx="940.0" cy="577.5" r="12.6"/>
<circle cx="952.5" cy="586.2" r="12.6"/>
<circle cx="915.0" cy="612.5" r="12.6"/>
<circle cx="933.8" cy="610.0" r="12.6"/>
<circle cx="948.8" cy="620.0" r="12.6"/>
<circle cx="1037.5" cy="600.0" r="12.6"/>
<circle cx="1015.0" cy="625.0" r="12.6"/>
<circle cx="1031.2" cy="625.0" r="12.6"/>
<circle cx="1063.8" cy="593.8" r="12.6"/>
<circle cx="1077.5" cy="612.5" r="12.6"/>
<circle cx="858.8" cy="637.5" r="12.6"/>
<circle cx="852.5" cy="656.2" r="12.6"/>
<circle cx="871.2" cy="662.5" r="12.6"/>
<circle cx="890.0" cy="672.5" r="12.6"/>
<circle cx="921.2" cy="662.5" r="12.6"/>
<circle cx="940.0" cy="656.2" r="12.6"/>
<circle cx="958.8" cy="660.0" r="12.6"/>
<circle cx="971.2" cy="666.2" r="12.6"/>
<circle cx="1002.5" cy="643.8" r="12.6"/>
<circle cx="996.2" cy="665.0" r="12.6"/>
<circle cx="1015.0" cy="656.2" r="12.6"/>
<circle cx="1040.0" cy="643.8" r="12.6"/>
<circle cx="1058.8" cy="650.0" r="12.6"/>
<circle cx="1195.0" cy="425.0" r="12.6"/>
<circle cx="1188.8" cy="436.2" r="12.6"/>
<circle cx="1173.8" cy="447.5" r="12.6"/>
<circle cx="1148.8" cy="455.6" r="12.6"/>
<circle cx="1170.0" cy="462.5" r="12.6"/>
<circle cx="1091.9" cy="479.4" r="12.6"/>
<circle cx="1130.0" cy="480.6" r="12.6"/>
<circle cx="1098.8" cy="496.2" r="12.6"/>
<circle cx="1115.0" cy="498.8" r="12.6"/>
<circle cx="1127.5" cy="495.0" r="12.6"/>
<circle cx="1104.4" cy="515.0" r="12.6"/>
<circle cx="1128.8" cy="515.0" r="12.6"/>
<circle cx="1170.0" cy="481.2" r="12.6"/>
<circle cx="1166.2" cy="492.5" r="12.6"/>
<circle cx="1186.2" cy="487.5" r="12.6"/>
<circle cx="1193.8" cy="471.2" r="12.6"/>
<circle cx="1180.0" cy="500.0" r="12.6"/>
<circle cx="1155.0" cy="515.0" r="12.6"/>
<circle cx="1170.0" cy="512.5" r="12.6"/>
<circle cx="1135.0" cy="532.5" r="12.6"/>
<circle cx="1128.8" cy="541.2" r="12.6"/>
<circle cx="1135.0" cy="552.5" r="12.6"/>
<circle cx="1157.5" cy="537.5" r="12.6"/>
<circle cx="1177.5" cy="535.0" r="12.6"/>
<circle cx="1163.8" cy="550.0" r="12.6"/>
<circle cx="1182.5" cy="552.5" r="12.6"/>
<circle cx="1162.5" cy="571.2" r="12.6"/>
<circle cx="1182.5" cy="575.0" r="12.6"/>
<circle cx="1093.8" cy="545.0" r="12.6"/>
<circle cx="1032.5" cy="537.5" r="12.6"/>
<circle cx="1026.2" cy="550.0" r="12.6"/>
<circle cx="1045.0" cy="560.0" r="12.6"/>
<circle cx="1090.0" cy="571.2" r="12.6"/>
<circle cx="1123.8" cy="583.8" r="12.6"/>
<circle cx="1095.0" cy="592.5" r="12.6"/>
<circle cx="1132.5" cy="605.0" r="12.6"/>
<circle cx="1108.8" cy="601.2" r="12.6"/>
<circle cx="1175.0" cy="591.2" r="12.6"/>
<circle cx="1190.0" cy="568.8" r="12.6"/>
<circle cx="1187.5" cy="585.0" r="12.6"/>
<circle cx="1198.8" cy="598.8" r="12.6"/>
<circle cx="1215.0" cy="608.8" r="12.6"/>
<circle cx="1291.2" cy="585.0" r="12.6"/>
<circle cx="1295.0" cy="598.8" r="12.6"/>
<circle cx="1308.8" cy="615.0" r="12.6"/>
<circle cx="1317.5" cy="580.0" r="12.6"/>
<circle cx="1315.0" cy="620.0" r="12.6"/>
<circle cx="1238.8" cy="591.2" r="12.6"/>
<circle cx="1256.2" cy="590.0" r="12.6"/>
<circle cx="1268.8" cy="595.0" r="12.6"/>
<circle cx="1242.5" cy="601.2" r="12.6"/>
<circle cx="1083.8" cy="613.8" r="12.6"/>
<circle cx="1093.8" cy="627.5" r="12.6"/>
<circle cx="1121.2" cy="620.0" r="12.6"/>
<circle cx="1105.0" cy="635.0" r="12.6"/>
<circle cx="1148.8" cy="621.2" r="12.6"/>
<circle cx="1133.8" cy="637.5" r="12.6"/>
<circle cx="1117.5" cy="647.5" r="12.6"/>
<circle cx="1173.8" cy="625.0" r="12.6"/>
<circle cx="1187.5" cy="613.8" r="12.6"/>
<circle cx="1175.0" cy="641.2" r="12.6"/>
<circle cx="1186.2" cy="657.5" r="12.6"/>
<circle cx="1217.5" cy="630.0" r="12.6"/>
<circle cx="1242.5" cy="625.0" r="12.6"/>
<circle cx="1243.8" cy="637.5" r="12.6"/>
<circle cx="1211.2" cy="647.5" r="12.6"/>
<circle cx="1230.0" cy="650.0" r="12.6"/>
<circle cx="1245.0" cy="647.5" r="12.6"/>
<circle cx="1273.8" cy="655.0" r="12.6"/>
<circle cx="1307.5" cy="648.1" r="12.6"/>
<circle cx="1092.5" cy="655.0" r="12.6"/>
<circle cx="1105.0" cy="666.2" r="12.6"/>
<circle cx="1092.5" cy="678.8" r="12.6"/>
<circle cx="1086.2" cy="697.5" r="12.6"/>
<circle cx="1142.5" cy="660.0" r="12.6"/>
<circle cx="1157.5" cy="666.2" r="12.6"/>
<circle cx="1167.5" cy="678.8" r="12.6"/>
<circle cx="1177.5" cy="685.0" r="12.6"/>
<circle cx="1198.8" cy="666.2" r="12.6"/>
<circle cx="1211.2" cy="672.5" r="12.6"/>
<circle cx="1226.2" cy="661.2" r="12.6"/>
<circle cx="1258.8" cy="672.5" r="12.6"/>
<circle cx="1256.2" cy="683.8" r="12.6"/>
<circle cx="1282.5" cy="685.0" r="12.6"/>
<circle cx="1118.8" cy="680.0" r="12.6"/>
<circle cx="1142.5" cy="690.0" r="12.6"/>
<circle cx="1130.0" cy="701.2" r="12.6"/>
<circle cx="1150.0" cy="703.8" r="12.6"/>
<circle cx="1167.5" cy="701.2" r="12.6"/>
<circle cx="1177.5" cy="710.0" r="12.6"/>
<circle cx="1201.2" cy="698.8" r="12.6"/>
<circle cx="1217.5" cy="692.5" r="12.6"/>
<circle cx="1233.8" cy="691.2" r="12.6"/>
<circle cx="1245.0" cy="701.2" r="12.6"/>
<circle cx="1230.0" cy="706.2" r="12.6"/>
<circle cx="1217.5" cy="713.8" r="12.6"/>
<circle cx="1117.5" cy="716.2" r="12.6"/>
<circle cx="1098.8" cy="716.2" r="12.6"/>
<circle cx="1111.2" cy="732.5" r="12.6"/>
<circle cx="1092.5" cy="735.0" r="12.6"/>
<circle cx="1150.0" cy="732.5" r="12.6"/>
<circle cx="1167.5" cy="725.0" r="12.6"/>
<circle cx="1180.0" cy="728.8" r="12.6"/>
<circle cx="1175.0" cy="740.0" r="12.6"/>
<circle cx="1215.0" cy="726.2" r="12.6"/>
<circle cx="1236.2" cy="732.5" r="12.6"/>
<circle cx="1205.0" cy="740.0" r="12.6"/>
<circle cx="1296.2" cy="716.2" r="12.6"/>
<circle cx="1312.5" cy="715.0" r="12.6"/>
<circle cx="1282.5" cy="726.2" r="12.6"/>
<circle cx="1267.5" cy="737.5" r="12.6"/>
<circle cx="1305.0" cy="732.5" r="12.6"/>
<circle cx="1317.5" cy="735.0" r="12.6"/>
<circle cx="1426.7" cy="862.2" r="12.6"/>
<circle cx="1377.8" cy="892.2" r="12.6"/>
<circle cx="1311.6" cy="935.6" r="12.6"/>
<circle cx="1388.9" cy="946.2" r="12.6"/>
<circle cx="1416.2" cy="960.4" r="12.6"/>
<circle cx="1331.6" cy="977.8" r="12.6"/>
<circle cx="1276.7" cy="975.1" r="12.6"/>
<circle cx="1244.4" cy="973.3" r="12.6"/>
<circle cx="1255.6" cy="982.2" r="12.6"/>
<circle cx="1213.3" cy="990.0" r="12.6"/>
<circle cx="1186.7" cy="985.6" r="12.6"/>
<circle cx="1151.1" cy="993.3" r="12.6"/>
<circle cx="1124.4" cy="988.9" r="12.6"/>
<circle cx="1094.4" cy="1006.7" r="12.6"/>
<circle cx="1095.6" cy="984.4" r="12.6"/>
<circle cx="1384.4" cy="761.1" r="12.6"/>
<circle cx="1406.7" cy="763.3" r="12.6"/>
<circle cx="1390.0" cy="784.4" r="12.6"/>
<circle cx="1381.1" cy="821.1" r="12.6"/>
<circle cx="1408.9" cy="817.8" r="12.6"/>
<circle cx="1383.3" cy="846.7" r="12.6"/>
<circle cx="1403.3" cy="845.6" r="12.6"/>
<circle cx="1368.9" cy="796.7" r="12.6"/>
<circle cx="1353.3" cy="808.9" r="12.6"/>
<circle cx="1357.8" cy="833.3" r="12.6"/>
<circle cx="1326.7" cy="742.2" r="12.6"/>
<circle cx="1333.3" cy="764.4" r="12.6"/>
<circle cx="1324.4" cy="784.4" r="12.6"/>
<circle cx="1342.2" cy="793.3" r="12.6"/>
<circle cx="1326.7" cy="808.9" r="12.6"/>
<circle cx="1322.2" cy="835.6" r="12.6"/>
<circle cx="1333.3" cy="857.8" r="12.6"/>
<circle cx="1343.3" cy="873.3" r="12.6"/>
<circle cx="1326.7" cy="884.4" r="12.6"/>
<circle cx="1337.8" cy="895.6" r="12.6"/>
<circle cx="1322.2" cy="904.4" r="12.6"/>
<circle cx="1298.9" cy="884.4" r="12.6"/>
<circle cx="1302.2" cy="862.2" r="12.6"/>
<circle cx="1280.0" cy="860.0" r="12.6"/>
<circle cx="1264.4" cy="875.6" r="12.6"/>
<circle cx="1251.1" cy="853.3" r="12.6"/>
<circle cx="1271.1" cy="897.8" r="12.6"/>
<circle cx="1286.7" cy="911.1" r="12.6"/>
<circle cx="1264.4" cy="920.0" r="12.6"/>
<circle cx="1241.1" cy="921.1" r="12.6"/>
<circle cx="1281.1" cy="946.7" r="12.6"/>
<circle cx="1255.6" cy="951.1" r="12.6"/>
<circle cx="1235.6" cy="940.0" r="12.6"/>
<circle cx="1215.6" cy="936.7" r="12.6"/>
<circle cx="1211.1" cy="917.8" r="12.6"/>
<circle cx="1193.3" cy="924.4" r="12.6"/>
<circle cx="1242.2" cy="893.3" r="12.6"/>
<circle cx="1224.4" cy="898.9" r="12.6"/>
<circle cx="1211.1" cy="873.3" r="12.6"/>
<circle cx="1195.6" cy="864.4" r="12.6"/>
<circle cx="1200.0" cy="888.9" r="12.6"/>
<circle cx="1180.0" cy="954.4" r="12.6"/>
<circle cx="1153.3" cy="964.4" r="12.6"/>
<circle cx="1204.4" cy="817.8" r="12.6"/>
<circle cx="1222.2" cy="826.7" r="12.6"/>
<circle cx="1217.8" cy="844.4" r="12.6"/>
<circle cx="1233.3" cy="851.1" r="12.6"/>
<circle cx="1253.3" cy="817.8" r="12.6"/>
<circle cx="1257.8" cy="800.0" r="12.6"/>
<circle cx="1273.3" cy="815.6" r="12.6"/>
<circle cx="1291.1" cy="802.2" r="12.6"/>
<circle cx="1302.2" cy="808.9" r="12.6"/>
<circle cx="1291.1" cy="826.7" r="12.6"/>
<circle cx="1311.1" cy="820.0" r="12.6"/>
<circle cx="1240.0" cy="748.9" r="12.6"/>
<circle cx="1226.7" cy="733.3" r="12.6"/>
<circle cx="1273.3" cy="773.3" r="12.6"/>
<circle cx="1262.2" cy="777.8" r="12.6"/>
<circle cx="1286.7" cy="748.9" r="12.6"/>
<circle cx="1297.8" cy="731.1" r="12.6"/>
<circle cx="1353.3" cy="733.3" r="12.6"/>
<circle cx="1364.4" cy="744.4" r="12.6"/>
<circle cx="1346.7" cy="753.3" r="12.6"/>
<circle cx="1395.6" cy="722.2" r="12.6"/>
<circle cx="1173.3" cy="766.7" r="12.6"/>
<circle cx="1191.1" cy="777.8" r="12.6"/>
<circle cx="1206.7" cy="764.4" r="12.6"/>
<circle cx="1222.2" cy="775.6" r="12.6"/>
<circle cx="1217.8" cy="793.3" r="12.6"/>
<circle cx="1235.6" cy="786.7" r="12.6"/>
<circle cx="1375.0" cy="562.5" r="12.6"/>
<circle cx="1387.5" cy="560.0" r="12.6"/>
<circle cx="1380.0" cy="577.5" r="12.6"/>
<circle cx="1367.5" cy="572.5" r="12.6"/>
<circle cx="1403.8" cy="563.8" r="12.6"/>
<circle cx="1412.5" cy="568.8" r="12.6"/>
<circle cx="1420.0" cy="557.5" r="12.6"/>
<circle cx="1351.2" cy="587.5" r="12.6"/>
<circle cx="1357.5" cy="596.2" r="12.6"/>
<circle cx="1295.0" cy="562.5" r="12.6"/>
<circle cx="1325.0" cy="615.0" r="12.6"/>
<circle cx="1330.0" cy="610.0" r="12.6"/>
<circle cx="1358.8" cy="608.8" r="12.6"/>
<circle cx="1375.0" cy="621.2" r="12.6"/>
<circle cx="1365.0" cy="631.2" r="12.6"/>
<circle cx="1401.2" cy="607.5" r="12.6"/>
<circle cx="1400.0" cy="617.5" r="12.6"/>
<circle cx="1337.5" cy="666.9" r="12.6"/>
<circle cx="1353.8" cy="664.4" r="12.6"/>
<circle cx="1418.1" cy="662.5" r="12.6"/>
<circle cx="1343.8" cy="693.8" r="12.6"/>
<circle cx="1365.0" cy="701.2" r="12.6"/>
<circle cx="1377.5" cy="706.2" r="12.6"/>
<circle cx="1346.2" cy="712.5" r="12.6"/>
<circle cx="1360.0" cy="717.5" r="12.6"/>
<circle cx="1375.0" cy="725.0" r="12.6"/>
<circle cx="1318.8" cy="730.0" r="12.6"/>
<circle cx="1190.0" cy="636.2" r="12.6"/>
<circle cx="1167.5" cy="656.2" r="12.6"/>
<circle cx="1153.8" cy="650.0" r="12.6"/>
<circle cx="1192.5" cy="672.5" r="12.6"/>
<circle cx="1205.0" cy="660.0" r="12.6"/>
<circle cx="1221.2" cy="640.0" r="12.6"/>
<circle cx="1233.8" cy="663.8" r="12.6"/>
<circle cx="1111.2" cy="701.2" r="12.6"/>
<circle cx="1160.0" cy="687.5" r="12.6"/>
<circle cx="1132.5" cy="685.0" r="12.6"/>
<circle cx="1098.8" cy="641.2" r="12.6"/>
<circle cx="1087.5" cy="666.2" r="12.6"/>
<circle cx="1123.8" cy="722.5" r="12.6"/>
<circle cx="1161.2" cy="713.8" r="12.6"/>
<circle cx="1192.5" cy="722.5" r="12.6"/>
<circle cx="1007.5" cy="415.0" r="12.6"/>
<circle cx="173.5" cy="913.0" r="12.6"/>
<circle cx="171.5" cy="930.0" r="12.6"/>
<circle cx="171.2" cy="948.0" r="12.6"/>
<circle cx="171.5" cy="965.0" r="12.6"/>
<circle cx="171.3" cy="982.0" r="12.6"/>
<circle cx="172.5" cy="998.0" r="12.6"/>
<circle cx="174.0" cy="1008.0" r="12.6"/>
</g>
<g fill="#ffffff">
<polygon points="1165.6,738.9 1177.8,744.4 1173.3,753.3 1163.3,751.1"/>
<polygon points="1203.3,732.2 1224.4,742.2 1220.0,745.6 1204.4,736.7"/>
<polygon points="1102.2,785.6 1113.3,781.1 1123.3,783.3 1115.6,788.9 1104.4,790.0"/>
<polygon points="1160.0,775.6 1177.8,786.7 1182.2,784.4 1177.8,788.9 1162.2,786.7"/>
<polygon points="1080.0,796.7 1090.0,794.4 1084.4,803.3 1080.0,804.4"/>
<polygon points="1255.6,760.0 1271.1,753.3 1257.8,767.8 1251.1,772.2"/>
<polygon points="1100.0,862.2 1108.9,875.6 1111.1,888.9 1106.7,897.8 1101.1,888.9 1104.4,875.6"/>
<polygon points="1157.8,915.6 1165.6,920.0 1163.3,924.4"/>
<polygon points="1140.0,948.9 1145.6,962.2 1142.2,962.2"/>
<polygon points="1087.8,965.6 1096.7,963.3 1093.3,968.9"/>
<polygon points="1122.2,971.1 1133.3,973.3 1127.8,977.8"/>
<polygon points="1188.9,884.4 1195.6,885.6 1192.2,888.9"/>
</g>
<g fill="none" stroke-width="4.1" stroke-linecap="round" stroke-linejoin="round">
<path d="M171.2 959.9 L182.3 958.8 L193.4 957.7 L204.6 956.5 L215.7 955.3 L226.8 954.1 L237.9 952.8 L249.0 951.5 L260.2 950.1 L271.3 948.8 L282.4 947.3 L293.5 945.9 L304.7 944.4 L315.8 942.9 L326.9 941.3 L338.0 939.7 L349.1 938.1 L360.3 936.4 L371.4 934.7 L382.5 932.9 L393.6 931.2 L404.7 929.4 L415.9 927.5 L427.0 925.6 L438.1 923.7 L449.2 921.7 L460.4 919.7 L471.5 917.7 L482.6 915.7 L493.7 913.6 L504.8 911.4 L516.0 909.3 L527.1 907.0 L538.2 904.8 L549.3 902.5 L560.4 900.2 L571.6 897.9 L582.7 895.5 L593.8 893.1 L604.9 890.6 L616.1 888.1 L627.2 885.6 L638.3 883.0 L649.4 880.5 L660.5 877.8 L671.7 875.2 L682.8 872.5 L693.9 869.7 L705.0 867.0 L716.1 864.1 L727.3 861.3 L738.4 858.4 L749.5 855.5 L760.6 852.6 L771.8 849.6 L782.9 846.6 L794.0 843.5 L805.1 840.4 L816.2 837.3 L827.4 834.2 L838.5 831.0 L849.6 827.8 L860.7 824.5 L871.8 821.2 L883.0 817.9 L894.1 814.5 L905.2 811.1 L916.3 807.7 L927.5 804.2 L938.6 800.7 L949.7 797.2 L960.8 793.6 L971.9 790.0 L983.1 786.3 L994.2 782.7 L1005.3 779.0 L1016.4 775.2 L1027.5 771.4 L1038.7 767.6 L1049.8 763.8 L1060.9 759.9 L1072.0 756.0 L1083.2 752.0 L1094.3 748.0 L1105.4 744.0 L1116.5 740.0 L1127.6 735.9 L1138.8 731.7 L1149.9 727.6 L1161.0 723.4 L1172.1 719.2 L1183.2 714.9 L1194.4 710.6 L1205.5 706.3 L1216.6 701.9 L1227.7 697.5 L1238.9 693.1 L1250.0 688.6 L1261.1 684.1 L1272.2 679.6 L1283.3 675.0 L1294.5 670.4 L1305.6 665.8 L1316.7 661.1 L1327.8 656.4 L1338.9 651.7 L1350.1 646.9 L1361.2 642.1 L1372.3 637.3 L1383.4 632.4 L1394.6 627.5 L1405.7 622.6 L1416.8 617.6 L1427.9 612.6 L1439.0 607.5 L1450.2 602.5 L1461.3 597.4 L1472.4 592.2 L1483.5 587.1 L1494.6 581.8 L1505.8 576.6 L1516.9 571.3 L1528.0 566.0 L1539.1 560.7 L1550.3 555.3 L1561.4 549.9 L1572.5 544.4 L1583.6 539.0 L1594.7 533.5 L1605.9 527.9 L1617.0 522.3 L1628.1 516.7 L1639.2 511.1 L1650.3 505.4 L1661.5 499.7 L1672.6 494.0 L1683.7 488.2 L1694.8 482.4 L1706.0 476.5 L1717.1 470.7 L1728.2 464.8 L1739.3 458.8 L1750.4 452.8 L1761.6 446.8 L1772.7 440.8 L1783.8 434.7 L1794.9 428.6 L1806.0 422.5 L1817.2 416.3 L1828.3 410.1 L1839.4 403.9" stroke="#90353b"/>
<path d="M171.2 985.7 L182.3 985.1 L193.4 984.5 L204.6 983.9 L215.7 983.2 L226.8 982.6 L237.9 981.9 L249.0 981.2 L260.2 980.5 L271.3 979.7 L282.4 979.0 L293.5 978.2 L304.7 977.4 L315.8 976.6 L326.9 975.8 L338.0 974.9 L349.1 974.1 L360.3 973.2 L371.4 972.3 L382.5 971.4 L393.6 970.4 L404.7 969.5 L415.9 968.5 L427.0 967.5 L438.1 966.5 L449.2 965.4 L460.4 964.4 L471.5 963.3 L482.6 962.2 L493.7 961.1 L504.8 960.0 L516.0 958.8 L527.1 957.6 L538.2 956.4 L549.3 955.2 L560.4 954.0 L571.6 952.8 L582.7 951.5 L593.8 950.2 L604.9 948.9 L616.1 947.6 L627.2 946.3 L638.3 944.9 L649.4 943.5 L660.5 942.1 L671.7 940.7 L682.8 939.3 L693.9 937.9 L705.0 936.4 L716.1 934.9 L727.3 933.4 L738.4 931.9 L749.5 930.3 L760.6 928.8 L771.8 927.2 L782.9 925.6 L794.0 924.0 L805.1 922.3 L816.2 920.7 L827.4 919.0 L838.5 917.3 L849.6 915.6 L860.7 913.9 L871.8 912.1 L883.0 910.4 L894.1 908.6 L905.2 906.8 L916.3 905.0 L927.5 903.1 L938.6 901.3 L949.7 899.4 L960.8 897.5 L971.9 895.6 L983.1 893.7 L994.2 891.7 L1005.3 889.7 L1016.4 887.8 L1027.5 885.8 L1038.7 883.7 L1049.8 881.7 L1060.9 879.6 L1072.0 877.6 L1083.2 875.5 L1094.3 873.3 L1105.4 871.2 L1116.5 869.1 L1127.6 866.9 L1138.8 864.7 L1149.9 862.5 L1161.0 860.3 L1172.1 858.0 L1183.2 855.8 L1194.4 853.5 L1205.5 851.2 L1216.6 848.9 L1227.7 846.6 L1238.9 844.2 L1250.0 841.9 L1261.1 839.5 L1272.2 837.1 L1283.3 834.7 L1294.5 832.2 L1305.6 829.8 L1316.7 827.3 L1327.8 824.8 L1338.9 822.3 L1350.1 819.8 L1361.2 817.2 L1372.3 814.6 L1383.4 812.1 L1394.6 809.5 L1405.7 806.8 L1416.8 804.2 L1427.9 801.6 L1439.0 798.9 L1450.2 796.2 L1461.3 793.5 L1472.4 790.8 L1483.5 788.0 L1494.6 785.3 L1505.8 782.5 L1516.9 779.7 L1528.0 776.9 L1539.1 774.0 L1550.3 771.2 L1561.4 768.3 L1572.5 765.4 L1583.6 762.5 L1594.7 759.6 L1605.9 756.7 L1617.0 753.7 L1628.1 750.7 L1639.2 747.8 L1650.3 744.7 L1661.5 741.7 L1672.6 738.7 L1683.7 735.6 L1694.8 732.5 L1706.0 729.4 L1717.1 726.3 L1728.2 723.2 L1739.3 720.0 L1750.4 716.9 L1761.6 713.7 L1772.7 710.5 L1783.8 707.3 L1794.9 704.0 L1806.0 700.8 L1817.2 697.5 L1828.3 694.2 L1839.4 690.9" stroke="#55752f"/>
<path d="M171.2 936.2 L182.3 934.7 L193.4 933.0 L204.6 931.4 L215.7 929.6 L226.8 927.9 L237.9 926.0 L249.0 924.2 L260.2 922.2 L271.3 920.3 L282.4 918.2 L293.5 916.1 L304.7 914.0 L315.8 911.8 L326.9 909.6 L338.0 907.3 L349.1 904.9 L360.3 902.5 L371.4 900.1 L382.5 897.6 L393.6 895.1 L404.7 892.5 L415.9 889.8 L427.0 887.1 L438.1 884.4 L449.2 881.6 L460.4 878.7 L471.5 875.8 L482.6 872.8 L493.7 869.8 L504.8 866.8 L516.0 863.7 L527.1 860.5 L538.2 857.3 L549.3 854.0 L560.4 850.7 L571.6 847.4 L582.7 844.0 L593.8 840.5 L604.9 837.0 L616.1 833.4 L627.2 829.8 L638.3 826.1 L649.4 822.4 L660.5 818.7 L671.7 814.8 L682.8 811.0 L693.9 807.1 L705.0 803.1 L716.1 799.1 L727.3 795.0 L738.4 790.9 L749.5 786.7 L760.6 782.5 L771.8 778.2 L782.9 773.9 L794.0 769.5 L805.1 765.1 L816.2 760.6 L827.4 756.1 L838.5 751.6 L849.6 746.9 L860.7 742.3 L871.8 737.6 L883.0 732.8 L894.1 728.0 L905.2 723.1 L916.3 718.2 L927.5 713.2 L938.6 708.2 L949.7 703.1 L960.8 698.0 L971.9 692.8 L983.1 687.6 L994.2 682.4 L1005.3 677.1 L1016.4 671.7 L1027.5 666.3 L1038.7 660.8 L1049.8 655.3 L1060.9 649.7 L1072.0 644.1 L1083.2 638.5 L1094.3 632.8 L1105.4 627.0 L1116.5 621.2 L1127.6 615.3 L1138.8 609.4 L1149.9 603.5 L1161.0 597.5 L1172.1 591.4 L1183.2 585.3 L1194.4 579.2 L1205.5 573.0 L1216.6 566.7 L1227.7 560.4 L1238.9 554.1 L1250.0 547.7 L1261.1 541.2 L1272.2 534.8 L1283.3 528.2 L1294.5 521.6 L1305.6 515.0 L1316.7 508.3 L1327.8 501.6 L1338.9 494.8 L1350.1 488.0 L1361.2 481.1 L1372.3 474.1 L1383.4 467.2 L1394.6 460.1 L1405.7 453.1 L1416.8 445.9 L1427.9 438.8 L1439.0 431.6 L1450.2 424.3 L1461.3 417.0 L1472.4 409.6 L1483.5 402.2 L1494.6 394.7 L1505.8 387.2 L1516.9 379.7 L1528.0 372.1 L1539.1 364.4 L1550.3 356.7 L1561.4 349.0 L1572.5 341.2 L1583.6 333.3 L1594.7 325.4 L1605.9 317.5 L1617.0 309.5 L1628.1 301.5 L1639.2 293.4 L1650.3 285.3 L1661.5 277.1 L1672.6 268.9 L1683.7 260.6 L1694.8 252.3 L1706.0 243.9 L1717.1 235.5 L1728.2 227.0 L1739.3 218.5 L1750.4 210.0 L1761.6 201.4 L1772.7 192.7 L1783.8 184.0 L1794.9 175.3 L1806.0 166.5 L1817.2 157.6 L1828.3 148.7 L1839.4 139.8" stroke="#e37e00"/>
<path d="M171.2 963.1 L182.3 962.1 L193.4 961.1 L204.6 960.0 L215.7 958.8 L226.8 957.7 L237.9 956.5 L249.0 955.2 L260.2 954.0 L271.3 952.6 L282.4 951.3 L293.5 949.9 L304.7 948.5 L315.8 947.1 L326.9 945.6 L338.0 944.1 L349.1 942.6 L360.3 941.0 L371.4 939.4 L382.5 937.8 L393.6 936.1 L404.7 934.4 L415.9 932.6 L427.0 930.9 L438.1 929.1 L449.2 927.2 L460.4 925.4 L471.5 923.4 L482.6 921.5 L493.7 919.5 L504.8 917.5 L516.0 915.5 L527.1 913.4 L538.2 911.3 L549.3 909.1 L560.4 907.0 L571.6 904.8 L582.7 902.5 L593.8 900.2 L604.9 897.9 L616.1 895.6 L627.2 893.2 L638.3 890.8 L649.4 888.4 L660.5 885.9 L671.7 883.4 L682.8 880.9 L693.9 878.3 L705.0 875.7 L716.1 873.0 L727.3 870.4 L738.4 867.7 L749.5 864.9 L760.6 862.1 L771.8 859.3 L782.9 856.5 L794.0 853.6 L805.1 850.7 L816.2 847.8 L827.4 844.8 L838.5 841.8 L849.6 838.8 L860.7 835.7 L871.8 832.6 L883.0 829.5 L894.1 826.3 L905.2 823.1 L916.3 819.9 L927.5 816.6 L938.6 813.3 L949.7 810.0 L960.8 806.6 L971.9 803.2 L983.1 799.8 L994.2 796.4 L1005.3 792.9 L1016.4 789.3 L1027.5 785.8 L1038.7 782.2 L1049.8 778.6 L1060.9 774.9 L1072.0 771.2 L1083.2 767.5 L1094.3 763.8 L1105.4 760.0 L1116.5 756.2 L1127.6 752.3 L1138.8 748.4 L1149.9 744.5 L1161.0 740.6 L1172.1 736.6 L1183.2 732.6 L1194.4 728.6 L1205.5 724.5 L1216.6 720.4 L1227.7 716.3 L1238.9 712.1 L1250.0 707.9 L1261.1 703.6 L1272.2 699.4 L1283.3 695.1 L1294.5 690.8 L1305.6 686.4 L1316.7 682.0 L1327.8 677.6 L1338.9 673.1 L1350.1 668.6 L1361.2 664.1 L1372.3 659.6 L1383.4 655.0 L1394.6 650.4 L1405.7 645.7 L1416.8 641.0 L1427.9 636.3 L1439.0 631.6 L1450.2 626.8 L1461.3 622.0 L1472.4 617.2 L1483.5 612.3 L1494.6 607.4 L1505.8 602.5 L1516.9 597.5 L1528.0 592.5 L1539.1 587.5 L1550.3 582.4 L1561.4 577.3 L1572.5 572.2 L1583.6 567.1 L1594.7 561.9 L1605.9 556.7 L1617.0 551.4 L1628.1 546.1 L1639.2 540.8 L1650.3 535.5 L1661.5 530.1 L1672.6 524.7 L1683.7 519.3 L1694.8 513.8 L1706.0 508.3 L1717.1 502.8 L1728.2 497.2 L1739.3 491.6 L1750.4 486.0 L1761.6 480.3 L1772.7 474.7 L1783.8 468.9 L1794.9 463.2 L1806.0 457.4 L1817.2 451.6 L1828.3 445.8 L1839.4 439.9" stroke="#6e8e84"/>
</g>
<g stroke="#000" stroke-width="3.2" fill="none">
<line x1="140.5" y1="50" x2="140.5" y2="1047.6"/>
<line x1="139" y1="1046" x2="1870" y2="1046"/>
<line x1="121" y1="1014.50" x2="139" y2="1014.50"/>
<line x1="121" y1="706.55" x2="139" y2="706.55"/>
<line x1="121" y1="398.60" x2="139" y2="398.60"/>
<line x1="121" y1="90.65" x2="139" y2="90.65"/>
<line x1="171.20" y1="1047" x2="171.20" y2="1066.5"/>
<line x1="727.27" y1="1047" x2="727.27" y2="1066.5"/>
<line x1="1283.34" y1="1047" x2="1283.34" y2="1066.5"/>
<line x1="1839.41" y1="1047" x2="1839.41" y2="1066.5"/>
</g>
<text transform="translate(100.7 1015.50) rotate(-90)" text-anchor="middle">0</text>
<text transform="translate(100.7 706.75) rotate(-90)" text-anchor="middle">5</text>
<text transform="translate(100.7 397.30) rotate(-90)" text-anchor="middle">10</text>
<text transform="translate(100.7 89.25) rotate(-90)" text-anchor="middle">15</text>
<text x="170.90" y="1114.2" text-anchor="middle">0</text>
<text x="726.97" y="1114.2" text-anchor="middle">1</text>
<text x="1283.04" y="1114.2" text-anchor="middle">2</text>
<text x="1839.11" y="1114.2" text-anchor="middle">3</text>
<text x="1005" y="1170" text-anchor="middle">x</text>
<rect x="326.5" y="1208.5" width="1357" height="163" fill="#fff" stroke="#000" stroke-width="3"/>
<circle cx="438.6" cy="1255.2" r="12.8" fill="#1a476f"/>
<g stroke-width="4.6" fill="none">
<line x1="348" y1="1325" x2="529" y2="1325" stroke="#e37e00"/>
<line x1="809" y1="1255" x2="990" y2="1255" stroke="#90353b"/>
<line x1="809" y1="1325" x2="990" y2="1325" stroke="#6e8e84"/>
<line x1="1270" y1="1255" x2="1451" y2="1255" stroke="#55752f"/>
</g>
<text x="559" y="1273.5">y</text>
<text x="558.5" y="1342.5">Q(0.8|x)</text>
<text x="1020" y="1273.5">E[y|x]</text>
<text x="1019.3" y="1342.5">Q(0.5|x)</text>
<text x="1480" y="1273.5">Q(0.2|x)</text>
</svg></body></html>
